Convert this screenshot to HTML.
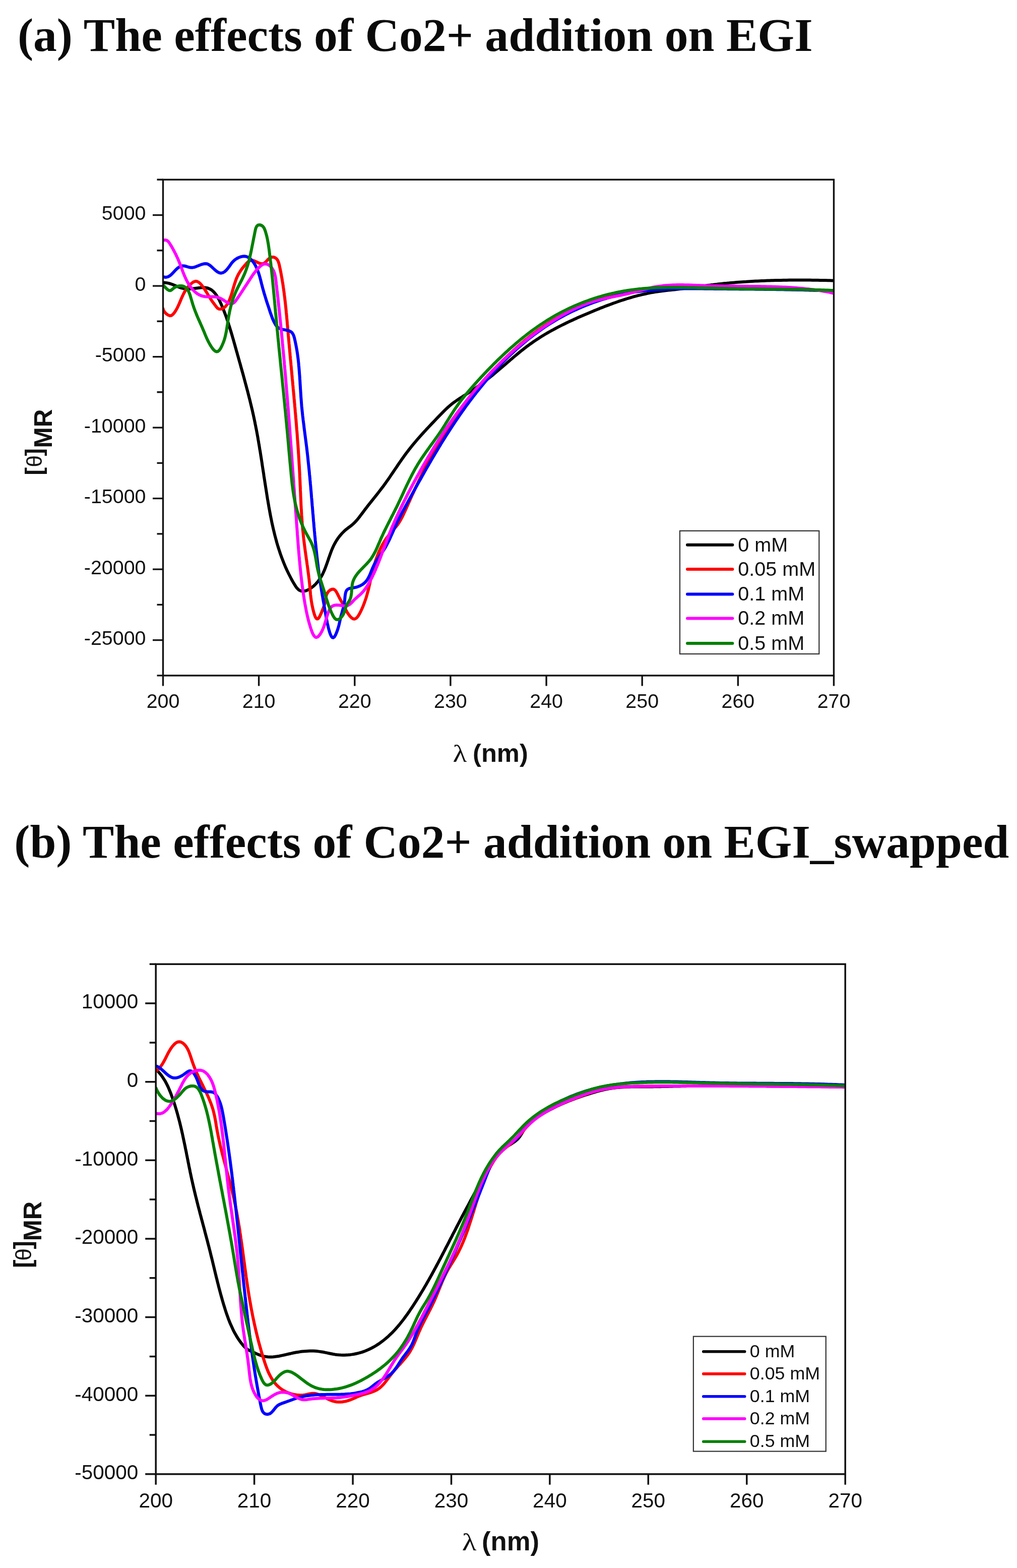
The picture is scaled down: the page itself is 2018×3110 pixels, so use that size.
<!DOCTYPE html>
<html><head><meta charset="utf-8"><title>Effects of Co2+ addition on EGI</title>
<style>
html,body{margin:0;padding:0;background:#fff;}
body{width:2018px;height:3110px;overflow:hidden;position:relative;}
svg{position:absolute;left:0;top:0;display:block;}
</style></head><body>
<svg width="2018" height="3110" viewBox="0 0 2018 3110">
<rect width="2018" height="3110" fill="#fff"/>
<g font-family="Liberation Serif, 'Times New Roman', serif" font-weight="bold" font-size="93.4" fill="#0a0a0a">
<text x="34.9" y="100.5" font-size="93.6">(a) The effects of Co2+ addition on EGI</text>
<text x="28.3" y="1700.5">(b) The effects of Co2+ addition on EGI_swapped</text>
</g>
<clipPath id="ca"><rect x="323.5" y="336.3" width="1331" height="1023.6"/></clipPath>
<g clip-path="url(#ca)" fill="none" stroke-width="6.0" stroke-linejoin="round" stroke-linecap="round">
<path stroke="#000000" d="M323.5,560.7 L327.4,560.6 L331.2,561.1 L335,561.9 L338.7,563 L342.3,564.3 L346,565.8 L349.6,567.3 L353.2,568.7 L356.8,570.1 L360.4,571.3 L364.1,572.2 L367.8,572.8 L371.5,573.1 L375.3,573 L379.1,572.8 L383,572.4 L386.9,571.9 L390.9,571.4 L394.9,570.9 L398.9,570.5 L402.9,570.3 L406.7,570.4 L410.3,571 L413.7,572 L416.9,573.4 L419.9,575.3 L422.7,577.6 L425.2,580.2 L427.7,583.1 L429.9,586.3 L432,589.7 L434,593.2 L435.9,596.9 L437.6,600.6 L439.3,604.3 L440.9,608.1 L442.4,611.8 L443.9,615.4 L445.3,619.1 L446.7,622.7 L448,626.3 L449.3,629.8 L450.5,633.4 L451.7,637 L452.9,640.5 L454,644.1 L455.2,647.7 L456.3,651.3 L457.4,654.9 L458.5,658.5 L459.6,662.2 L460.7,665.9 L461.7,669.5 L462.8,673.2 L463.9,677 L464.9,680.7 L466,684.4 L467,688.1 L468.1,691.9 L469.1,695.6 L470.2,699.3 L471.2,703.1 L472.3,706.8 L473.3,710.5 L474.4,714.3 L475.4,718 L476.5,721.7 L477.5,725.4 L478.5,729.2 L479.6,732.9 L480.6,736.6 L481.7,740.4 L482.7,744.1 L483.7,747.8 L484.7,751.5 L485.7,755.3 L486.7,759 L487.7,762.7 L488.7,766.4 L489.7,770.2 L490.7,773.9 L491.7,777.6 L492.6,781.4 L493.6,785.1 L494.5,788.8 L495.5,792.6 L496.4,796.3 L497.3,800.1 L498.2,803.8 L499.1,807.5 L500,811.3 L500.9,815 L501.7,818.8 L502.6,822.6 L503.4,826.3 L504.2,830.1 L505,833.9 L505.8,837.6 L506.5,841.4 L507.3,845.2 L508,849 L508.8,852.7 L509.5,856.5 L510.2,860.3 L510.9,864.1 L511.6,867.9 L512.2,871.7 L512.9,875.5 L513.5,879.3 L514.2,883.1 L514.8,886.9 L515.4,890.7 L516.1,894.5 L516.7,898.3 L517.3,902.2 L517.9,906 L518.5,909.8 L519.1,913.6 L519.7,917.4 L520.2,921.2 L520.8,925.1 L521.4,928.9 L522,932.7 L522.6,936.5 L523.2,940.3 L523.7,944.2 L524.3,948 L524.9,951.8 L525.5,955.6 L526.1,959.5 L526.7,963.3 L527.3,967.1 L527.9,970.9 L528.5,974.7 L529.1,978.5 L529.7,982.4 L530.3,986.2 L530.9,990 L531.6,993.8 L532.2,997.6 L532.9,1001.4 L533.5,1005.2 L534.2,1009 L534.9,1012.8 L535.6,1016.6 L536.3,1020.4 L537,1024.2 L537.8,1028 L538.6,1031.8 L539.3,1035.5 L540.1,1039.3 L541,1043.1 L541.8,1046.8 L542.7,1050.6 L543.6,1054.3 L544.5,1058.1 L545.4,1061.8 L546.4,1065.5 L547.4,1069.2 L548.4,1072.9 L549.4,1076.6 L550.5,1080.3 L551.6,1084 L552.8,1087.7 L554,1091.4 L555.2,1095 L556.4,1098.7 L557.7,1102.3 L559,1105.9 L560.4,1109.5 L561.8,1113.1 L563.2,1116.7 L564.7,1120.3 L566.2,1123.9 L567.8,1127.4 L569.4,1131 L571.1,1134.5 L572.8,1138 L574.6,1141.5 L576.4,1145 L578.2,1148.5 L580.1,1152 L582.1,1155.4 L584.1,1158.8 L586.2,1162.2 L588.4,1165.4 L590.8,1168.1 L593.4,1170.4 L596.4,1171.9 L599.8,1172.6 L603.3,1172.5 L607,1171.7 L610.7,1170.2 L614.3,1168.3 L617.8,1165.9 L621,1163.4 L624,1160.8 L626.8,1158 L629.4,1155.1 L631.8,1152.1 L634.1,1149 L636.1,1145.8 L638.1,1142.5 L639.9,1139.2 L641.5,1135.7 L643.1,1132.2 L644.6,1128.7 L646,1125.1 L647.3,1121.5 L648.6,1117.9 L649.9,1114.2 L651.2,1110.5 L652.4,1106.8 L653.7,1103.2 L655,1099.5 L656.3,1095.9 L657.7,1092.2 L659.2,1088.6 L660.8,1085.1 L662.4,1081.6 L664.2,1078.2 L666.1,1074.8 L668.1,1071.5 L670.2,1068.3 L672.5,1065.2 L674.9,1062.2 L677.4,1059.3 L680,1056.5 L682.7,1053.8 L685.5,1051.2 L688.5,1048.8 L691.5,1046.5 L694.5,1044.3 L697.5,1042 L700.4,1039.5 L703.2,1036.9 L705.8,1034.2 L708.4,1031.3 L710.8,1028.4 L713.2,1025.4 L715.5,1022.3 L717.9,1019.2 L720.2,1016.1 L722.5,1013 L724.8,1009.9 L727.2,1006.8 L729.6,1003.7 L732,1000.7 L734.4,997.7 L736.8,994.6 L739.2,991.6 L741.6,988.6 L744,985.6 L746.4,982.6 L748.8,979.6 L751.2,976.5 L753.5,973.5 L755.9,970.4 L758.2,967.4 L760.6,964.3 L762.8,961.2 L765.1,958.1 L767.3,954.9 L769.6,951.8 L771.8,948.6 L774,945.4 L776.1,942.2 L778.3,939 L780.5,935.8 L782.6,932.6 L784.8,929.4 L787,926.2 L789.1,923 L791.3,919.8 L793.5,916.6 L795.7,913.5 L797.9,910.3 L800.1,907.2 L802.4,904 L804.7,900.9 L807,897.8 L809.3,894.8 L811.7,891.7 L814.1,888.7 L816.5,885.7 L818.9,882.7 L821.4,879.7 L823.8,876.8 L826.3,873.8 L828.8,870.9 L831.4,868 L833.9,865.1 L836.5,862.2 L839.1,859.4 L841.7,856.5 L844.3,853.7 L846.9,850.8 L849.6,848 L852.2,845.2 L854.9,842.4 L857.5,839.6 L860.2,836.8 L862.9,834 L865.5,831.2 L868.2,828.4 L870.9,825.6 L873.6,822.9 L876.3,820.1 L879,817.3 L881.7,814.6 L884.5,811.9 L887.3,809.3 L890.1,806.7 L893,804.2 L896,801.7 L899,799.4 L902.1,797.1 L905.3,794.9 L908.5,792.7 L911.7,790.6 L915,788.5 L918.2,786.4 L921.5,784.4 L924.8,782.3 L928,780.2 L931.2,778.1 L934.5,775.9 L937.7,773.8 L940.8,771.6 L944,769.4 L947.1,767.2 L950.3,765 L953.4,762.7 L956.5,760.4 L959.6,758.1 L962.6,755.8 L965.7,753.4 L968.7,751 L971.7,748.6 L974.7,746.2 L977.7,743.8 L980.7,741.3 L983.7,738.8 L986.6,736.3 L989.6,733.8 L992.5,731.3 L995.5,728.8 L998.4,726.2 L1001.4,723.7 L1004.3,721.2 L1007.2,718.6 L1010.2,716.1 L1013.1,713.6 L1016.1,711.1 L1019,708.5 L1022,706 L1024.9,703.6 L1027.9,701.1 L1030.9,698.6 L1033.9,696.2 L1037,693.8 L1040,691.4 L1043,689.1 L1046.1,686.7 L1049.2,684.5 L1052.3,682.2 L1055.5,680 L1058.6,677.8 L1061.8,675.6 L1065,673.5 L1068.2,671.4 L1071.5,669.3 L1074.7,667.3 L1078,665.3 L1081.3,663.3 L1084.6,661.3 L1087.9,659.4 L1091.3,657.5 L1094.6,655.6 L1098,653.8 L1101.4,652 L1104.8,650.2 L1108.2,648.4 L1111.6,646.6 L1115.1,644.9 L1118.5,643.2 L1122,641.5 L1125.5,639.8 L1129,638.1 L1132.5,636.5 L1136,634.9 L1139.5,633.3 L1143,631.7 L1146.5,630.1 L1150.1,628.5 L1153.6,627 L1157.2,625.4 L1160.7,623.9 L1164.3,622.4 L1167.9,620.9 L1171.4,619.4 L1175,617.9 L1178.6,616.4 L1182.2,615 L1185.8,613.5 L1189.4,612.1 L1193,610.6 L1196.6,609.2 L1200.2,607.8 L1203.8,606.4 L1207.4,605.1 L1211.1,603.7 L1214.7,602.4 L1218.3,601 L1222,599.8 L1225.6,598.5 L1229.3,597.2 L1232.9,596 L1236.6,594.8 L1240.3,593.6 L1243.9,592.5 L1247.6,591.4 L1251.3,590.3 L1255,589.2 L1258.7,588.2 L1262.5,587.2 L1266.2,586.2 L1269.9,585.3 L1273.6,584.4 L1277.4,583.5 L1281.2,582.7 L1284.9,581.9 L1288.7,581.1 L1292.5,580.4 L1296.3,579.7 L1300.1,579.1 L1303.9,578.5 L1307.7,578 L1311.5,577.5 L1315.4,577 L1319.2,576.5 L1323.1,576.1 L1326.9,575.6 L1330.7,575.2 L1334.6,574.8 L1338.4,574.4 L1342.3,573.9 L1346.1,573.5 L1350,573.1 L1353.8,572.6 L1357.7,572.1 L1361.5,571.6 L1365.3,571.1 L1369.2,570.6 L1373,570.1 L1376.8,569.6 L1380.6,569.1 L1384.5,568.6 L1388.3,568.1 L1392.1,567.6 L1395.9,567.1 L1399.7,566.6 L1403.6,566.1 L1407.4,565.6 L1411.2,565.1 L1415,564.7 L1418.9,564.2 L1422.7,563.8 L1426.5,563.3 L1430.4,562.9 L1434.2,562.5 L1438,562.1 L1441.9,561.8 L1445.7,561.4 L1449.6,561 L1453.4,560.7 L1457.2,560.4 L1461.1,560.1 L1464.9,559.8 L1468.8,559.5 L1472.6,559.2 L1476.5,558.9 L1480.3,558.7 L1484.2,558.4 L1488,558.2 L1491.9,558 L1495.8,557.8 L1499.6,557.6 L1503.5,557.4 L1507.3,557.2 L1511.2,557 L1515,556.9 L1518.9,556.7 L1522.8,556.6 L1526.6,556.5 L1530.5,556.3 L1534.3,556.2 L1538.2,556.1 L1542.1,556 L1545.9,555.9 L1549.8,555.9 L1553.7,555.8 L1557.5,555.7 L1561.4,555.7 L1565.3,555.6 L1569.1,555.6 L1573,555.6 L1576.8,555.6 L1580.7,555.5 L1584.6,555.5 L1588.4,555.5 L1592.3,555.5 L1596.2,555.6 L1600,555.6 L1603.9,555.6 L1607.7,555.6 L1611.6,555.7 L1615.5,555.7 L1619.3,555.8 L1623.2,555.8 L1627,555.9 L1630.9,556 L1634.7,556 L1638.6,556.1 L1642.4,556.2 L1646.3,556.3 L1650.1,556.4 L1654,556.5"/>
<path stroke="#ff0000" d="M323.5,612 L324,614.8 L326.1,618.3 L329.3,621.8 L333.1,624.7 L337,626.2 L340.4,625.7 L343.3,623.4 L345.9,620.3 L348.1,617 L350.1,613.7 L351.9,610.3 L353.6,606.8 L355.2,603.3 L356.7,599.8 L358.2,596.3 L359.6,592.7 L361.2,589.2 L362.8,585.7 L364.5,582.2 L366.4,578.7 L368.5,575.3 L370.7,571.9 L373.2,568.8 L375.8,565.8 L378.6,563.1 L381.6,560.8 L384.7,558.8 L387.9,557.8 L391.1,558.2 L394.2,559.8 L397.2,562.3 L400.1,565.5 L402.8,569 L405.3,572.6 L407.5,576 L409.6,579.3 L411.5,582.5 L413.4,585.7 L415.3,588.8 L417.2,591.9 L419.3,595 L421.5,598.2 L423.9,601.4 L426.4,604.8 L429,608.3 L431.7,611.4 L434.9,613.1 L438.6,613 L442,611.8 L445.1,609.9 L447.8,607.5 L450.1,604.5 L452.2,601.3 L454.1,597.7 L455.7,594 L457.1,590.1 L458.5,586.3 L459.7,582.5 L460.8,578.7 L461.9,574.9 L463,571.2 L464.1,567.5 L465.2,563.8 L466.4,560.2 L467.6,556.6 L468.9,553 L470.4,549.5 L472,546.1 L473.8,542.8 L475.8,539.5 L477.9,536.2 L480.2,533 L482.7,529.9 L485.3,526.7 L488,523.7 L490.9,520.7 L494,518.2 L497.3,516.6 L500.9,516.5 L504.6,517.5 L508.5,519.2 L512.4,521.1 L516.2,522.6 L519.8,523.3 L523.2,522.6 L526.2,520.5 L529.2,517.5 L532.1,514.4 L535.3,511.6 L538.7,510 L542.5,509.9 L545.9,511.1 L548.6,513.1 L550.6,515.7 L552.2,518.9 L553.4,522.5 L554.4,526.4 L555.2,530.3 L556.1,534.2 L556.8,538.2 L557.6,542.1 L558.3,546 L559,549.9 L559.7,553.8 L560.3,557.7 L561,561.6 L561.6,565.5 L562.1,569.4 L562.7,573.3 L563.2,577.1 L563.8,581 L564.2,584.9 L564.7,588.7 L565.2,592.6 L565.6,596.5 L566.1,600.3 L566.5,604.2 L566.9,608 L567.3,611.9 L567.7,615.7 L568,619.6 L568.4,623.4 L568.8,627.3 L569.1,631.1 L569.5,635 L569.8,638.8 L570.1,642.6 L570.5,646.5 L570.8,650.3 L571.1,654.2 L571.5,658 L571.8,661.9 L572.1,665.7 L572.5,669.6 L572.8,673.4 L573.2,677.3 L573.5,681.2 L573.9,685 L574.2,688.9 L574.6,692.7 L574.9,696.6 L575.3,700.5 L575.6,704.3 L576,708.2 L576.3,712.1 L576.7,715.9 L577.1,719.8 L577.4,723.7 L577.8,727.6 L578.1,731.4 L578.5,735.3 L578.9,739.2 L579.2,743.1 L579.6,746.9 L579.9,750.8 L580.3,754.7 L580.7,758.6 L581,762.5 L581.4,766.3 L581.7,770.2 L582.1,774.1 L582.5,778 L582.8,781.9 L583.2,785.8 L583.5,789.6 L583.9,793.5 L584.2,797.4 L584.6,801.3 L584.9,805.2 L585.3,809.1 L585.6,812.9 L585.9,816.8 L586.3,820.7 L586.6,824.6 L586.9,828.5 L587.3,832.4 L587.6,836.3 L587.9,840.1 L588.2,844 L588.5,847.9 L588.8,851.8 L589.2,855.7 L589.5,859.6 L589.8,863.4 L590,867.3 L590.3,871.2 L590.6,875.1 L590.9,879 L591.2,882.8 L591.5,886.7 L591.7,890.6 L592,894.5 L592.2,898.3 L592.5,902.2 L592.7,906.1 L593,909.9 L593.2,913.8 L593.4,917.7 L593.6,921.6 L593.9,925.4 L594.1,929.3 L594.3,933.1 L594.5,937 L594.7,940.9 L594.8,944.7 L595,948.6 L595.2,952.4 L595.4,956.3 L595.5,960.1 L595.7,964 L595.9,967.9 L596,971.7 L596.2,975.6 L596.4,979.4 L596.5,983.3 L596.7,987.1 L596.9,991 L597.1,994.9 L597.2,998.7 L597.4,1002.6 L597.6,1006.4 L597.8,1010.3 L598.1,1014.2 L598.3,1018.1 L598.5,1021.9 L598.8,1025.8 L599.1,1029.7 L599.3,1033.6 L599.6,1037.5 L600,1041.4 L600.3,1045.3 L600.6,1049.2 L601,1053.1 L601.4,1057 L601.8,1060.9 L602.2,1064.8 L602.6,1068.8 L603.1,1072.7 L603.6,1076.6 L604.1,1080.6 L604.6,1084.5 L605.1,1088.4 L605.6,1092.3 L606.2,1096.3 L606.7,1100.2 L607.3,1104.1 L607.8,1108 L608.4,1111.9 L608.9,1115.7 L609.4,1119.6 L610,1123.4 L610.5,1127.3 L611,1131.1 L611.5,1134.8 L612,1138.6 L612.5,1142.3 L612.9,1146.1 L613.4,1149.7 L613.8,1153.4 L614.2,1157 L614.5,1160.6 L614.8,1164.2 L615.2,1167.7 L615.5,1171.3 L615.8,1174.8 L616.1,1178.5 L616.5,1182.2 L617,1186 L617.5,1190 L618.2,1194.2 L618.9,1198.6 L619.9,1203.2 L620.9,1208.1 L622.2,1213.1 L623.6,1218 L625.1,1222.3 L626.8,1225.6 L628.6,1227.5 L630.5,1227.6 L632.4,1225.8 L634.4,1222.6 L636.3,1218.5 L638.2,1214.2 L639.8,1210.1 L641.3,1206.3 L642.7,1202.7 L643.8,1199.1 L644.8,1195.5 L645.5,1191.9 L646.1,1188.1 L646.8,1184.2 L647.7,1180.4 L649.3,1176.8 L651.6,1173.4 L654.8,1170.5 L658.4,1168.7 L661.8,1168.5 L664.6,1170.2 L667.1,1173.3 L669.2,1177.2 L671.2,1181.2 L673.1,1185 L675,1188.5 L676.8,1191.7 L678.6,1194.9 L680.3,1198.2 L682,1201.5 L683.7,1205 L685.6,1208.5 L687.5,1212.1 L689.7,1215.8 L692.2,1219.4 L694.8,1222.7 L697.6,1225.4 L700.4,1227.2 L703.1,1227.8 L705.7,1227 L708.2,1225 L710.5,1222.1 L712.7,1218.5 L714.8,1214.6 L716.7,1210.7 L718.5,1206.8 L720.2,1202.9 L721.7,1199 L723.2,1195.2 L724.5,1191.4 L725.8,1187.6 L727,1183.8 L728.1,1180 L729.1,1176.3 L730.1,1172.6 L731.1,1168.9 L732,1165.2 L732.8,1161.5 L733.7,1157.8 L734.5,1154.1 L735.3,1150.4 L736.2,1146.7 L737,1143.1 L737.8,1139.4 L738.7,1135.7 L739.6,1132 L740.6,1128.3 L741.6,1124.5 L742.6,1120.8 L743.8,1117.1 L744.9,1113.3 L746.2,1109.6 L747.5,1105.9 L748.9,1102.2 L750.3,1098.5 L751.9,1094.8 L753.5,1091.2 L755.1,1087.6 L756.9,1084.1 L758.7,1080.6 L760.7,1077.2 L762.7,1073.8 L764.8,1070.5 L767,1067.3 L769.3,1064.2 L771.7,1061.1 L774.2,1058.2 L776.7,1055.2 L779.2,1052.4 L781.8,1049.5 L784.2,1046.5 L786.7,1043.6 L789,1040.5 L791.2,1037.4 L793.2,1034.1 L795.2,1030.8 L797,1027.4 L798.8,1024 L800.5,1020.5 L802.1,1016.9 L803.8,1013.4 L805.4,1009.8 L807,1006.2 L808.6,1002.7 L810.2,999.1 L811.8,995.5 L813.4,992 L815,988.4 L816.6,984.8 L818.2,981.3 L819.9,977.7 L821.5,974.2 L823.1,970.6 L824.7,967.1 L826.4,963.6 L828,960 L829.7,956.5 L831.3,953 L833,949.5 L834.7,946 L836.4,942.5 L838.1,939 L839.8,935.5 L841.6,932 L843.3,928.6 L845.1,925.1 L846.9,921.7 L848.6,918.2 L850.5,914.8 L852.3,911.4 L854.1,908 L856,904.6 L857.9,901.2 L859.8,897.8 L861.7,894.5 L863.7,891.1 L865.7,887.8 L867.7,884.5 L869.7,881.2 L871.7,877.9 L873.7,874.6 L875.8,871.3 L877.9,868 L880,864.7 L882.1,861.5 L884.3,858.3 L886.4,855 L888.6,851.8 L890.7,848.6 L892.9,845.4 L895.2,842.2 L897.4,839 L899.6,835.8 L901.9,832.6 L904.1,829.5 L906.4,826.3 L908.7,823.2 L911,820 L913.3,816.9 L915.6,813.8 L917.9,810.6 L920.3,807.5 L922.6,804.4 L925,801.3 L927.3,798.2 L929.7,795.1 L932.1,792 L934.5,789 L936.9,785.9 L939.3,782.8 L941.7,779.8 L944.1,776.7 L946.6,773.7 L949,770.7 L951.5,767.6 L954,764.6 L956.4,761.6 L958.9,758.6 L961.4,755.7 L964,752.7 L966.5,749.8 L969,746.8 L971.6,743.9 L974.2,741 L976.8,738.1 L979.4,735.2 L982,732.3 L984.6,729.4 L987.2,726.6 L989.9,723.8 L992.6,720.9 L995.3,718.2 L998,715.4 L1000.7,712.6 L1003.4,709.9 L1006.2,707.1 L1008.9,704.4 L1011.7,701.7 L1014.5,699 L1017.4,696.4 L1020.2,693.8 L1023.1,691.1 L1025.9,688.5 L1028.8,686 L1031.7,683.4 L1034.7,680.9 L1037.6,678.4 L1040.6,675.9 L1043.6,673.4 L1046.6,671 L1049.7,668.6 L1052.7,666.2 L1055.8,663.8 L1058.9,661.4 L1062,659.1 L1065.2,656.8 L1068.3,654.5 L1071.5,652.3 L1074.7,650.1 L1077.9,647.9 L1081.2,645.7 L1084.4,643.6 L1087.7,641.5 L1091,639.4 L1094.3,637.3 L1097.6,635.3 L1101,633.3 L1104.4,631.3 L1107.7,629.4 L1111.1,627.5 L1114.6,625.6 L1118,623.8 L1121.4,622 L1124.9,620.2 L1128.4,618.4 L1131.9,616.7 L1135.4,615 L1138.9,613.4 L1142.5,611.7 L1146,610.1 L1149.6,608.6 L1153.2,607.1 L1156.8,605.6 L1160.4,604.1 L1164,602.7 L1167.6,601.3 L1171.3,600 L1174.9,598.7 L1178.6,597.4 L1182.3,596.2 L1186,595 L1189.7,593.8 L1193.4,592.7 L1197.2,591.6 L1200.9,590.6 L1204.6,589.5 L1208.4,588.6 L1212.2,587.6 L1216,586.7 L1219.7,585.8 L1223.5,584.9 L1227.3,584.1 L1231.1,583.3 L1235,582.5 L1238.8,581.8 L1242.6,581.1 L1246.4,580.4 L1250.3,579.8 L1254.1,579.2 L1258,578.6 L1261.8,578 L1265.7,577.5 L1269.5,577 L1273.4,576.5 L1277.3,576 L1281.1,575.6 L1285,575.2 L1288.9,574.8 L1292.8,574.4 L1296.6,574.1 L1300.5,573.8 L1304.4,573.5 L1308.3,573.3 L1312.1,573 L1316,572.8 L1319.9,572.6 L1323.8,572.4 L1327.7,572.2 L1331.5,572.1 L1335.4,572 L1339.3,571.9 L1343.2,571.8 L1347.1,571.7 L1350.9,571.6 L1354.8,571.6 L1358.7,571.5 L1362.6,571.5 L1366.5,571.5 L1370.4,571.5 L1374.2,571.5 L1378.1,571.5 L1382,571.5 L1385.9,571.5 L1389.8,571.5 L1393.7,571.6 L1397.5,571.6 L1401.4,571.6 L1405.3,571.7 L1409.2,571.7 L1413.1,571.8 L1417,571.8 L1420.8,571.9 L1424.7,571.9 L1428.6,572 L1432.5,572 L1436.4,572.1 L1440.3,572.2 L1444.2,572.2 L1448.1,572.3 L1451.9,572.3 L1455.8,572.4 L1459.7,572.4 L1463.6,572.5 L1467.5,572.5 L1471.4,572.6 L1475.3,572.6 L1479.1,572.7 L1483,572.8 L1486.9,572.8 L1490.8,572.9 L1494.7,573 L1498.6,573 L1502.5,573.1 L1506.4,573.1 L1510.2,573.2 L1514.1,573.3 L1518,573.4 L1521.9,573.4 L1525.8,573.5 L1529.7,573.6 L1533.6,573.6 L1537.5,573.7 L1541.3,573.8 L1545.2,573.9 L1549.1,574 L1553,574 L1556.9,574.1 L1560.8,574.2 L1564.7,574.3 L1568.6,574.4 L1572.4,574.5 L1576.3,574.6 L1580.2,574.7 L1584.1,574.8 L1588,574.9 L1591.9,575 L1595.8,575.1 L1599.6,575.2 L1603.5,575.3 L1607.4,575.4 L1611.3,575.5 L1615.2,575.7 L1619.1,575.8 L1622.9,575.9 L1626.8,576 L1630.7,576.2 L1634.6,576.3 L1638.5,576.4 L1642.4,576.6 L1646.2,576.7 L1650.1,576.9 L1654,577"/>
<path stroke="#0000ff" d="M323.5,549 L327.7,549.9 L331.5,549.5 L334.9,548.3 L337.9,546.3 L340.8,543.7 L343.6,540.8 L346.4,537.7 L349.2,534.7 L352.2,532 L355.4,529.7 L358.9,528.1 L362.5,527.3 L366.2,527.5 L369.9,528.5 L373.6,529.7 L377.3,530.6 L381.2,530.7 L385.1,530.1 L389,528.8 L392.9,527.3 L396.7,525.7 L400.5,524.3 L404.2,523.3 L407.7,522.9 L411,523.3 L414.1,524.7 L417.1,526.8 L420,529.3 L423,532.1 L426,534.9 L429.1,537.5 L432.3,539.7 L435.6,541.2 L439,541.7 L442.3,540.9 L445.6,539 L448.7,536.2 L451.5,533 L453.9,529.9 L456.2,526.7 L458.3,523.7 L460.6,520.7 L463.2,517.9 L466.1,515.3 L469.6,513 L473.3,511 L477.2,509.5 L481.1,508.6 L484.9,508.3 L488.4,508.8 L491.6,510 L494.7,511.8 L497.5,514 L500.1,516.6 L502.4,519.6 L504.6,522.8 L506.6,526.2 L508.4,529.8 L510.1,533.5 L511.6,537.3 L513,541 L514.2,544.8 L515.3,548.5 L516.3,552.2 L517.3,555.9 L518.2,559.5 L519.1,563.2 L520.1,566.9 L521,570.5 L522,574.2 L523.1,577.9 L524.1,581.6 L525.3,585.3 L526.4,589 L527.5,592.7 L528.7,596.5 L529.9,600.2 L531.1,603.9 L532.4,607.6 L533.6,611.3 L534.8,615 L536,618.7 L537.3,622.4 L538.6,626.1 L539.9,629.7 L541.3,633.3 L542.9,636.9 L544.7,640.4 L546.6,643.8 L548.8,646.9 L551.5,649.5 L554.6,651.5 L558.2,652.8 L562.1,653.7 L566,654.4 L569.9,655.2 L573.6,656.2 L576.8,657.7 L579.5,659.9 L581.5,662.9 L583,666.4 L584.2,670.4 L585.1,674.4 L586,678.5 L586.8,682.4 L587.6,686.4 L588.3,690.3 L589,694.1 L589.6,698 L590.2,701.8 L590.7,705.6 L591.2,709.4 L591.7,713.2 L592.1,717 L592.5,720.8 L592.8,724.6 L593.2,728.4 L593.5,732.2 L593.8,736.1 L594.1,739.9 L594.4,743.7 L594.7,747.6 L594.9,751.5 L595.2,755.3 L595.4,759.2 L595.6,763.1 L595.9,766.9 L596.1,770.8 L596.4,774.7 L596.6,778.6 L596.9,782.5 L597.1,786.3 L597.4,790.2 L597.7,794.1 L598,798 L598.3,801.9 L598.6,805.7 L599,809.6 L599.4,813.5 L599.8,817.3 L600.2,821.2 L600.6,825.1 L601.1,828.9 L601.5,832.8 L602,836.6 L602.5,840.5 L603,844.3 L603.4,848.2 L603.9,852 L604.4,855.9 L604.9,859.7 L605.4,863.6 L605.9,867.4 L606.4,871.3 L606.9,875.1 L607.4,879 L607.9,882.8 L608.4,886.7 L608.8,890.5 L609.3,894.4 L609.7,898.2 L610.2,902.1 L610.6,905.9 L611,909.8 L611.4,913.6 L611.8,917.5 L612.2,921.3 L612.6,925.2 L613,929 L613.4,932.9 L613.8,936.7 L614.1,940.6 L614.5,944.4 L614.9,948.3 L615.2,952.1 L615.6,956 L615.9,959.8 L616.3,963.7 L616.6,967.6 L616.9,971.4 L617.3,975.3 L617.6,979.1 L617.9,983 L618.2,986.8 L618.6,990.7 L618.9,994.6 L619.2,998.4 L619.5,1002.3 L619.9,1006.1 L620.2,1010 L620.5,1013.9 L620.8,1017.7 L621.2,1021.6 L621.5,1025.4 L621.8,1029.3 L622.1,1033.2 L622.5,1037 L622.8,1040.9 L623.1,1044.7 L623.5,1048.6 L623.8,1052.5 L624.2,1056.3 L624.5,1060.2 L624.9,1064 L625.3,1067.9 L625.6,1071.7 L626,1075.6 L626.4,1079.5 L626.8,1083.3 L627.2,1087.2 L627.6,1091 L628,1094.9 L628.4,1098.8 L628.8,1102.6 L629.2,1106.5 L629.7,1110.3 L630.1,1114.2 L630.6,1118 L631.1,1121.9 L631.5,1125.7 L632,1129.6 L632.5,1133.5 L633,1137.3 L633.5,1141.2 L634.1,1145 L634.6,1148.9 L635.2,1152.7 L635.7,1156.6 L636.3,1160.4 L636.9,1164.3 L637.5,1168.1 L638.1,1172 L638.8,1175.8 L639.4,1179.7 L640.1,1183.5 L640.7,1187.4 L641.4,1191.2 L642.1,1195 L642.8,1198.8 L643.4,1202.5 L644.1,1206.2 L644.7,1209.8 L645.4,1213.4 L646,1217 L646.6,1220.5 L647.2,1224.1 L647.9,1227.8 L648.7,1231.7 L649.5,1235.8 L650.5,1240.2 L651.6,1244.9 L652.9,1249.9 L654.3,1254.7 L655.9,1258.9 L657.6,1262.3 L659.3,1264.4 L661.2,1264.9 L663.2,1263.5 L665.1,1260.6 L667,1256.7 L668.7,1252.3 L670.3,1247.9 L671.5,1243.7 L672.6,1239.7 L673.5,1235.8 L674.3,1232.1 L675.1,1228.5 L675.9,1225 L676.7,1221.5 L677.7,1218 L678.7,1214.5 L679.7,1210.9 L680.7,1207.3 L681.7,1203.5 L682.6,1199.6 L683.3,1195.5 L683.9,1191.2 L684.3,1186.7 L684.7,1182.3 L685.3,1178.1 L686.2,1174.3 L687.7,1171.1 L689.8,1168.8 L692.7,1167.3 L696.2,1166.6 L700.1,1166 L704.1,1165.3 L708,1164.3 L711.8,1163 L715.5,1161.4 L718.9,1159.5 L722,1157.3 L724.8,1154.7 L727.2,1151.9 L729.4,1148.8 L731.3,1145.4 L733,1142 L734.6,1138.4 L736.1,1134.7 L737.6,1131 L739.1,1127.3 L740.7,1123.7 L742.4,1120.1 L744.3,1116.7 L746.3,1113.4 L748.4,1110.1 L750.6,1106.9 L752.8,1103.7 L755,1100.6 L757.2,1097.4 L759.3,1094.2 L761.4,1091 L763.5,1087.7 L765.4,1084.4 L767.2,1081 L769,1077.6 L770.8,1074.2 L772.5,1070.7 L774.1,1067.2 L775.7,1063.6 L777.3,1060.1 L778.9,1056.5 L780.4,1053 L782,1049.4 L783.6,1045.9 L785.2,1042.3 L786.8,1038.8 L788.5,1035.3 L790.2,1031.8 L791.9,1028.4 L793.7,1024.9 L795.4,1021.5 L797.2,1018.1 L799,1014.7 L800.9,1011.3 L802.7,1007.9 L804.5,1004.5 L806.4,1001.1 L808.2,997.7 L810.1,994.3 L811.9,990.9 L813.8,987.5 L815.6,984.1 L817.5,980.7 L819.3,977.3 L821.2,973.9 L823.1,970.5 L824.9,967.1 L826.8,963.7 L828.7,960.3 L830.6,956.9 L832.5,953.6 L834.4,950.2 L836.3,946.8 L838.2,943.4 L840.1,940 L842,936.6 L843.9,933.3 L845.8,929.9 L847.7,926.5 L849.7,923.2 L851.6,919.8 L853.6,916.5 L855.5,913.1 L857.5,909.7 L859.4,906.4 L861.4,903.1 L863.4,899.7 L865.4,896.4 L867.4,893.1 L869.4,889.7 L871.4,886.4 L873.4,883.1 L875.4,879.8 L877.5,876.5 L879.5,873.2 L881.6,869.9 L883.6,866.6 L885.7,863.4 L887.8,860.1 L889.9,856.8 L892,853.6 L894.1,850.3 L896.2,847.1 L898.4,843.8 L900.5,840.6 L902.7,837.4 L904.8,834.2 L907,831 L909.2,827.8 L911.4,824.6 L913.6,821.4 L915.8,818.2 L918,815.1 L920.3,811.9 L922.5,808.8 L924.8,805.6 L927.1,802.5 L929.4,799.4 L931.7,796.3 L934,793.2 L936.4,790.1 L938.7,787 L941.1,783.9 L943.5,780.9 L945.8,777.8 L948.3,774.8 L950.7,771.8 L953.1,768.8 L955.6,765.8 L958,762.8 L960.5,759.8 L963,756.8 L965.5,753.9 L968,750.9 L970.6,748 L973.2,745.1 L975.7,742.2 L978.3,739.3 L980.9,736.4 L983.6,733.5 L986.2,730.7 L988.9,727.9 L991.5,725.1 L994.2,722.2 L996.9,719.5 L999.7,716.7 L1002.4,713.9 L1005.2,711.2 L1007.9,708.5 L1010.7,705.8 L1013.5,703.1 L1016.4,700.5 L1019.2,697.8 L1022.1,695.2 L1025,692.6 L1027.9,690 L1030.8,687.5 L1033.7,684.9 L1036.6,682.4 L1039.6,679.9 L1042.6,677.4 L1045.6,675 L1048.6,672.5 L1051.7,670.1 L1054.7,667.8 L1057.8,665.4 L1060.9,663.1 L1064,660.8 L1067.1,658.5 L1070.3,656.2 L1073.4,654 L1076.6,651.8 L1079.8,649.6 L1083,647.4 L1086.3,645.3 L1089.5,643.2 L1092.8,641.2 L1096.1,639.1 L1099.4,637.1 L1102.7,635.1 L1106.1,633.2 L1109.5,631.2 L1112.8,629.3 L1116.2,627.5 L1119.7,625.6 L1123.1,623.8 L1126.6,622.1 L1130,620.3 L1133.5,618.6 L1137,616.9 L1140.5,615.3 L1144.1,613.7 L1147.6,612.1 L1151.2,610.5 L1154.7,609 L1158.3,607.5 L1161.9,606 L1165.5,604.6 L1169.2,603.2 L1172.8,601.8 L1176.5,600.5 L1180.1,599.2 L1183.8,597.9 L1187.5,596.6 L1191.2,595.4 L1194.9,594.2 L1198.6,593.1 L1202.3,592 L1206,590.9 L1209.8,589.9 L1213.5,588.9 L1217.3,587.9 L1221,586.9 L1224.8,586 L1228.6,585.1 L1232.4,584.3 L1236.1,583.5 L1239.9,582.7 L1243.7,582 L1247.5,581.2 L1251.3,580.6 L1255.2,579.9 L1259,579.3 L1262.8,578.8 L1266.6,578.2 L1270.5,577.7 L1274.3,577.2 L1278.1,576.8 L1282,576.3 L1285.8,575.9 L1289.7,575.6 L1293.5,575.2 L1297.4,574.9 L1301.2,574.6 L1305.1,574.3 L1309,574.1 L1312.8,573.9 L1316.7,573.7 L1320.6,573.5 L1324.4,573.3 L1328.3,573.2 L1332.2,573 L1336.1,572.9 L1339.9,572.8 L1343.8,572.7 L1347.7,572.7 L1351.6,572.6 L1355.5,572.6 L1359.4,572.5 L1363.2,572.5 L1367.1,572.5 L1371,572.5 L1374.9,572.5 L1378.8,572.5 L1382.7,572.5 L1386.6,572.6 L1390.5,572.6 L1394.3,572.6 L1398.2,572.7 L1402.1,572.7 L1406,572.7 L1409.9,572.8 L1413.8,572.8 L1417.7,572.9 L1421.5,572.9 L1425.4,573 L1429.3,573 L1433.2,573 L1437.1,573.1 L1440.9,573.1 L1444.8,573.2 L1448.7,573.2 L1452.6,573.2 L1456.4,573.3 L1460.3,573.3 L1464.2,573.3 L1468.1,573.4 L1471.9,573.4 L1475.8,573.4 L1479.7,573.5 L1483.6,573.5 L1487.4,573.5 L1491.3,573.6 L1495.2,573.6 L1499,573.7 L1502.9,573.7 L1506.8,573.7 L1510.6,573.8 L1514.5,573.8 L1518.4,573.9 L1522.2,573.9 L1526.1,573.9 L1530,574 L1533.8,574 L1537.7,574.1 L1541.6,574.2 L1545.5,574.2 L1549.3,574.3 L1553.2,574.3 L1557.1,574.4 L1560.9,574.4 L1564.8,574.5 L1568.7,574.6 L1572.5,574.7 L1576.4,574.7 L1580.3,574.8 L1584.2,574.9 L1588,575 L1591.9,575.1 L1595.8,575.2 L1599.7,575.2 L1603.5,575.3 L1607.4,575.4 L1611.3,575.6 L1615.2,575.7 L1619,575.8 L1622.9,575.9 L1626.8,576 L1630.7,576.1 L1634.6,576.3 L1638.5,576.4 L1642.3,576.5 L1646.2,576.7 L1650.1,576.8 L1654,577"/>
<path stroke="#ff00ff" d="M323.5,476.4 L328.2,476 L331.7,477.2 L334.4,479.6 L336.5,482.6 L338.5,485.8 L340.5,489.1 L342.4,492.4 L344.2,495.8 L346.1,499.2 L347.8,502.7 L349.6,506.2 L351.2,509.8 L352.9,513.3 L354.4,516.9 L355.9,520.6 L357.4,524.2 L358.7,527.9 L360.1,531.5 L361.5,535.2 L362.8,538.8 L364.2,542.4 L365.7,546 L367.2,549.6 L368.8,553.1 L370.5,556.5 L372.3,559.9 L374.2,563.3 L376.3,566.5 L378.6,569.7 L381,572.8 L383.6,575.7 L386.4,578.5 L389.4,581 L392.5,583.2 L395.8,585 L399.3,586.5 L403,587.6 L406.8,588.2 L410.8,588.5 L414.8,588.5 L418.8,588.5 L422.9,588.5 L426.8,588.8 L430.6,589.4 L434.3,590.4 L437.8,591.9 L441.2,593.8 L444.6,595.9 L447.9,598.1 L451.4,600.1 L454.8,601.8 L458.1,602.5 L461.3,602 L464.2,600.3 L466.9,597.6 L469.4,594.3 L471.8,590.8 L474.1,587.3 L476.4,583.9 L478.6,580.6 L480.7,577.3 L482.8,574.1 L484.9,570.9 L487,567.7 L489.1,564.6 L491.1,561.4 L493.1,558.3 L495.2,555.2 L497.2,552 L499.3,548.9 L501.4,545.7 L503.6,542.6 L506,539.5 L508.4,536.3 L511.1,533.3 L514.1,530.3 L517.3,527.4 L520.7,525 L524.1,523.6 L527.5,523.5 L530.7,524.3 L533.8,525.9 L536.7,528.3 L539.2,531.1 L541.3,534.3 L543.1,537.7 L544.5,541.2 L545.5,544.9 L546.4,548.6 L547,552.4 L547.5,556.3 L548,560.2 L548.4,564.1 L548.9,568 L549.3,571.9 L549.7,575.8 L550.2,579.6 L550.6,583.5 L551,587.4 L551.5,591.3 L551.9,595.2 L552.3,599.1 L552.7,603 L553.2,606.8 L553.6,610.7 L554,614.6 L554.4,618.5 L554.8,622.4 L555.2,626.3 L555.6,630.1 L556,634 L556.4,637.9 L556.8,641.8 L557.2,645.6 L557.5,649.5 L557.9,653.4 L558.3,657.3 L558.7,661.1 L559.1,665 L559.4,668.9 L559.8,672.8 L560.2,676.6 L560.5,680.5 L560.9,684.4 L561.3,688.2 L561.6,692.1 L562,696 L562.3,699.9 L562.7,703.7 L563.1,707.6 L563.4,711.5 L563.8,715.3 L564.1,719.2 L564.4,723.1 L564.8,726.9 L565.1,730.8 L565.5,734.7 L565.8,738.5 L566.1,742.4 L566.5,746.3 L566.8,750.1 L567.1,754 L567.4,757.9 L567.8,761.7 L568.1,765.6 L568.4,769.4 L568.7,773.3 L569.1,777.2 L569.4,781 L569.7,784.9 L570,788.8 L570.3,792.6 L570.6,796.5 L570.9,800.4 L571.2,804.2 L571.6,808.1 L571.9,811.9 L572.2,815.8 L572.5,819.7 L572.8,823.5 L573.1,827.4 L573.4,831.3 L573.7,835.1 L574,839 L574.3,842.9 L574.6,846.7 L574.9,850.6 L575.2,854.5 L575.4,858.3 L575.7,862.2 L576,866.1 L576.3,869.9 L576.6,873.8 L576.9,877.6 L577.2,881.5 L577.5,885.4 L577.8,889.3 L578,893.1 L578.3,897 L578.6,900.9 L578.9,904.7 L579.2,908.6 L579.5,912.5 L579.7,916.3 L580,920.2 L580.3,924.1 L580.6,927.9 L580.9,931.8 L581.2,935.7 L581.4,939.6 L581.7,943.4 L582,947.3 L582.3,951.2 L582.6,955.1 L582.8,958.9 L583.1,962.8 L583.4,966.7 L583.7,970.6 L584,974.4 L584.2,978.3 L584.5,982.2 L584.8,986.1 L585.1,990 L585.3,993.9 L585.6,997.7 L585.9,1001.6 L586.2,1005.5 L586.5,1009.4 L586.7,1013.3 L587,1017.2 L587.3,1021 L587.6,1024.9 L587.9,1028.8 L588.2,1032.7 L588.4,1036.6 L588.7,1040.5 L589,1044.4 L589.3,1048.3 L589.6,1052.2 L589.9,1056.1 L590.1,1060 L590.4,1063.9 L590.7,1067.8 L591,1071.7 L591.3,1075.6 L591.6,1079.5 L591.9,1083.3 L592.2,1087.2 L592.5,1091.1 L592.9,1095 L593.2,1098.9 L593.5,1102.8 L593.9,1106.7 L594.2,1110.5 L594.6,1114.4 L594.9,1118.3 L595.3,1122.1 L595.7,1126 L596.1,1129.9 L596.5,1133.7 L596.9,1137.6 L597.3,1141.4 L597.7,1145.2 L598.2,1149.1 L598.6,1152.9 L599.1,1156.7 L599.6,1160.5 L600.1,1164.3 L600.6,1168.1 L601.1,1171.9 L601.6,1175.6 L602.2,1179.4 L602.8,1183.2 L603.4,1186.9 L604,1190.7 L604.6,1194.4 L605.2,1198.1 L605.9,1201.8 L606.6,1205.5 L607.3,1209.2 L608,1212.9 L608.8,1216.6 L609.6,1220.4 L610.5,1224.3 L611.5,1228.2 L612.5,1232.3 L613.7,1236.5 L615,1240.9 L616.4,1245.5 L617.9,1250.1 L619.6,1254.5 L621.4,1258.4 L623.4,1261.5 L625.5,1263.6 L627.8,1264.3 L630.2,1263.4 L632.7,1261.2 L635.1,1258.1 L637.3,1254.6 L639.2,1251 L640.8,1247.4 L642.3,1243.7 L643.6,1240 L644.7,1236.2 L645.9,1232.4 L646.9,1228.6 L648.1,1224.8 L649.2,1221 L650.5,1217.2 L652,1213.4 L653.6,1209.6 L655.6,1206.1 L658,1203.3 L660.9,1201.4 L664.3,1200.4 L668,1200.1 L672,1200.3 L676,1200.8 L680,1201.3 L683.9,1201.7 L687.4,1201.6 L690.7,1200.7 L693.7,1199 L696.4,1196.6 L699.1,1193.8 L701.8,1190.9 L704.7,1188 L707.6,1185.4 L710.6,1182.8 L713.6,1180.3 L716.4,1177.6 L719.1,1174.8 L721.7,1171.9 L724,1168.9 L726.3,1165.8 L728.4,1162.6 L730.5,1159.3 L732.4,1155.9 L734.3,1152.5 L736.1,1149 L737.9,1145.6 L739.6,1142.1 L741.2,1138.6 L742.9,1135.1 L744.5,1131.5 L746,1127.9 L747.5,1124.4 L749,1120.8 L750.5,1117.2 L751.9,1113.6 L753.3,1109.9 L754.7,1106.3 L756.1,1102.7 L757.5,1099 L758.8,1095.4 L760.2,1091.7 L761.5,1088.1 L762.9,1084.4 L764.2,1080.8 L765.6,1077.1 L766.9,1073.5 L768.3,1069.9 L769.7,1066.2 L771.1,1062.6 L772.5,1059 L774,1055.4 L775.5,1051.8 L776.9,1048.2 L778.4,1044.7 L780,1041.1 L781.5,1037.6 L783.1,1034 L784.6,1030.5 L786.2,1026.9 L787.8,1023.4 L789.5,1019.9 L791.1,1016.4 L792.8,1012.9 L794.4,1009.4 L796.1,1005.9 L797.8,1002.4 L799.5,999 L801.2,995.5 L803,992 L804.7,988.6 L806.5,985.1 L808.2,981.7 L810,978.2 L811.8,974.8 L813.6,971.3 L815.4,967.9 L817.2,964.5 L819,961 L820.9,957.6 L822.7,954.2 L824.6,950.8 L826.4,947.4 L828.3,944 L830.2,940.6 L832.1,937.2 L834,933.8 L835.9,930.4 L837.8,927 L839.7,923.6 L841.7,920.3 L843.6,916.9 L845.6,913.5 L847.5,910.2 L849.5,906.8 L851.5,903.5 L853.5,900.2 L855.5,896.8 L857.5,893.5 L859.6,890.2 L861.6,886.9 L863.7,883.6 L865.7,880.3 L867.8,877 L869.9,873.7 L872,870.4 L874.1,867.1 L876.2,863.9 L878.3,860.6 L880.5,857.4 L882.6,854.2 L884.8,850.9 L887,847.7 L889.2,844.5 L891.4,841.3 L893.6,838.1 L895.8,834.9 L898,831.7 L900.3,828.6 L902.6,825.4 L904.8,822.3 L907.1,819.1 L909.4,816 L911.7,812.9 L914.1,809.8 L916.4,806.7 L918.8,803.6 L921.1,800.5 L923.5,797.5 L925.9,794.4 L928.3,791.4 L930.7,788.3 L933.2,785.3 L935.6,782.3 L938.1,779.3 L940.6,776.3 L943,773.4 L945.5,770.4 L948.1,767.5 L950.6,764.5 L953.1,761.6 L955.7,758.7 L958.3,755.8 L960.9,752.9 L963.5,750 L966.1,747.2 L968.7,744.3 L971.4,741.5 L974.1,738.7 L976.7,735.9 L979.4,733.1 L982.2,730.3 L984.9,727.6 L987.6,724.8 L990.4,722.1 L993.1,719.4 L995.9,716.7 L998.7,714 L1001.6,711.3 L1004.4,708.7 L1007.2,706 L1010.1,703.4 L1013,700.8 L1015.9,698.2 L1018.8,695.6 L1021.7,693.1 L1024.6,690.5 L1027.6,688 L1030.5,685.5 L1033.5,683 L1036.5,680.5 L1039.5,678.1 L1042.6,675.7 L1045.6,673.2 L1048.7,670.8 L1051.7,668.5 L1054.8,666.1 L1057.9,663.7 L1061.1,661.4 L1064.2,659.1 L1067.3,656.8 L1070.5,654.6 L1073.7,652.3 L1076.9,650.1 L1080.1,647.9 L1083.3,645.7 L1086.6,643.5 L1089.8,641.4 L1093.1,639.2 L1096.4,637.1 L1099.7,635 L1103,633 L1106.3,630.9 L1109.7,628.9 L1113.1,626.9 L1116.4,625 L1119.8,623 L1123.3,621.1 L1126.7,619.3 L1130.1,617.4 L1133.6,615.7 L1137.1,613.9 L1140.6,612.2 L1144.1,610.6 L1147.6,609 L1151.2,607.4 L1154.8,605.9 L1158.4,604.4 L1162,603 L1165.6,601.7 L1169.2,600.4 L1172.9,599.2 L1176.6,598 L1180.3,596.9 L1184,595.9 L1187.8,594.9 L1191.5,594 L1195.3,593.1 L1199.1,592.2 L1202.9,591.4 L1206.7,590.6 L1210.5,589.8 L1214.3,589 L1218.1,588.2 L1221.9,587.5 L1225.7,586.7 L1229.5,586 L1233.4,585.2 L1237.2,584.4 L1241,583.5 L1244.8,582.7 L1248.6,581.8 L1252.4,580.9 L1256.1,579.9 L1259.9,578.9 L1263.7,577.9 L1267.4,576.9 L1271.2,575.9 L1275,574.9 L1278.7,573.9 L1282.5,572.9 L1286.2,572 L1290,571.1 L1293.8,570.3 L1297.6,569.5 L1301.4,568.8 L1305.2,568.1 L1309,567.6 L1312.8,567.1 L1316.7,566.6 L1320.5,566.3 L1324.4,566 L1328.2,565.7 L1332.1,565.5 L1336,565.3 L1339.9,565.2 L1343.7,565.1 L1347.6,565.1 L1351.5,565.1 L1355.4,565.1 L1359.3,565.2 L1363.3,565.2 L1367.2,565.3 L1371.1,565.4 L1375,565.6 L1378.9,565.7 L1382.8,565.9 L1386.7,566 L1390.6,566.2 L1394.5,566.3 L1398.5,566.4 L1402.4,566.6 L1406.3,566.7 L1410.2,566.8 L1414.1,566.9 L1417.9,567 L1421.8,567.1 L1425.7,567.2 L1429.6,567.2 L1433.5,567.3 L1437.4,567.4 L1441.3,567.4 L1445.2,567.5 L1449,567.5 L1452.9,567.6 L1456.8,567.6 L1460.7,567.6 L1464.5,567.7 L1468.4,567.7 L1472.3,567.7 L1476.2,567.8 L1480,567.8 L1483.9,567.8 L1487.8,567.9 L1491.7,567.9 L1495.6,567.9 L1499.4,568 L1503.3,568 L1507.2,568.1 L1511.1,568.2 L1515,568.2 L1518.8,568.3 L1522.7,568.4 L1526.6,568.5 L1530.5,568.6 L1534.4,568.7 L1538.3,568.8 L1542.2,568.9 L1546,569.1 L1549.9,569.2 L1553.8,569.4 L1557.7,569.6 L1561.6,569.8 L1565.4,570 L1569.3,570.2 L1573.2,570.5 L1577.1,570.8 L1580.9,571.1 L1584.8,571.4 L1588.7,571.7 L1592.5,572.1 L1596.4,572.5 L1600.3,572.9 L1604.1,573.3 L1608,573.8 L1611.8,574.2 L1615.7,574.8 L1619.5,575.3 L1623.4,575.9 L1627.2,576.4 L1631.1,577.1 L1634.9,577.7 L1638.7,578.4 L1642.6,579.1 L1646.4,579.9 L1650.2,580.7 L1654,581.5"/>
<path stroke="#008000" d="M323.5,565.9 L325.9,567.9 L329,571.1 L332.3,574.2 L335.7,576.3 L338.8,576.2 L341.7,574 L344.9,571.2 L348.5,569.1 L352.5,567.7 L356.5,567 L360.4,567 L363.9,567.7 L366.9,569.2 L369.5,571.2 L371.7,573.8 L373.6,576.9 L375.2,580.3 L376.7,584 L377.9,587.9 L379.1,592 L380.3,596 L381.5,600.1 L382.7,604.1 L384,608 L385.3,611.8 L386.7,615.5 L388.1,619.2 L389.6,622.8 L391,626.4 L392.5,629.9 L394,633.4 L395.6,636.8 L397.1,640.2 L398.6,643.6 L400.1,647 L401.6,650.4 L403,653.8 L404.5,657.2 L405.9,660.6 L407.3,664.1 L408.8,667.6 L410.3,671.2 L412.1,674.8 L414,678.6 L416.2,682.6 L418.6,686.6 L421.3,690.6 L424.1,694 L427,696.5 L429.8,697.6 L432.5,697 L435,694.9 L437.3,691.8 L439.3,688 L441.1,684.2 L442.7,680.4 L444.2,676.6 L445.4,672.8 L446.5,669.1 L447.4,665.3 L448.2,661.5 L449,657.7 L449.6,653.9 L450.2,650.1 L450.8,646.4 L451.4,642.6 L451.9,638.7 L452.5,634.9 L453.2,631.1 L453.8,627.2 L454.6,623.4 L455.3,619.6 L456.1,615.7 L457,611.9 L457.9,608.1 L458.9,604.3 L460,600.6 L461.1,596.8 L462.3,593.1 L463.6,589.4 L465,585.8 L466.4,582.2 L468,578.6 L469.6,575.1 L471.3,571.6 L473,568.1 L474.8,564.7 L476.6,561.2 L478.3,557.8 L480.1,554.3 L481.8,550.8 L483.4,547.3 L485,543.8 L486.5,540.2 L487.9,536.5 L489.2,532.8 L490.5,529.1 L491.7,525.4 L492.7,521.6 L493.8,517.8 L494.8,514 L495.7,510.2 L496.5,506.4 L497.4,502.6 L498.2,498.8 L499,495 L499.7,491.3 L500.4,487.6 L501.2,483.9 L501.9,480.3 L502.6,476.6 L503.3,472.9 L504.1,469.1 L504.9,465.1 L505.7,461 L506.6,456.6 L507.7,452.3 L509.4,448.7 L511.9,446.5 L515.3,446 L518.8,447 L521.8,449.2 L524,452.3 L525.6,456 L526.9,459.8 L528,463.7 L529.1,467.6 L530,471.5 L530.8,475.4 L531.5,479.2 L532.2,483.1 L532.8,486.9 L533.3,490.7 L533.9,494.6 L534.4,498.4 L534.8,502.2 L535.3,506.1 L535.8,509.9 L536.3,513.8 L536.7,517.6 L537.2,521.5 L537.6,525.3 L538,529.2 L538.5,533 L538.9,536.9 L539.3,540.7 L539.7,544.6 L540.1,548.5 L540.5,552.3 L540.9,556.2 L541.3,560.1 L541.6,563.9 L542,567.8 L542.4,571.7 L542.8,575.6 L543.1,579.4 L543.5,583.3 L543.9,587.2 L544.2,591.1 L544.6,594.9 L545,598.8 L545.3,602.7 L545.7,606.6 L546,610.5 L546.4,614.3 L546.7,618.2 L547.1,622.1 L547.5,626 L547.8,629.9 L548.2,633.7 L548.6,637.6 L548.9,641.5 L549.3,645.4 L549.7,649.2 L550,653.1 L550.4,657 L550.8,660.9 L551.2,664.7 L551.5,668.6 L551.9,672.5 L552.3,676.4 L552.7,680.2 L553.1,684.1 L553.4,688 L553.8,691.9 L554.2,695.7 L554.6,699.6 L555,703.5 L555.4,707.3 L555.8,711.2 L556.2,715.1 L556.5,719 L556.9,722.8 L557.3,726.7 L557.7,730.6 L558.1,734.4 L558.5,738.3 L558.9,742.2 L559.3,746 L559.7,749.9 L560.1,753.8 L560.4,757.7 L560.8,761.5 L561.2,765.4 L561.6,769.3 L562,773.1 L562.4,777 L562.8,780.9 L563.2,784.7 L563.5,788.6 L563.9,792.5 L564.3,796.4 L564.7,800.2 L565.1,804.1 L565.4,808 L565.8,811.8 L566.2,815.7 L566.6,819.6 L566.9,823.5 L567.3,827.3 L567.7,831.2 L568,835.1 L568.4,838.9 L568.8,842.8 L569.1,846.7 L569.5,850.6 L569.9,854.4 L570.2,858.3 L570.6,862.2 L570.9,866.1 L571.3,869.9 L571.6,873.8 L572,877.7 L572.3,881.6 L572.6,885.4 L573,889.3 L573.3,893.2 L573.7,897.1 L574,900.9 L574.4,904.8 L574.7,908.7 L575.1,912.6 L575.4,916.4 L575.8,920.3 L576.2,924.2 L576.5,928.1 L576.9,932 L577.3,935.8 L577.6,939.7 L578,943.6 L578.4,947.5 L578.8,951.4 L579.2,955.2 L579.6,959.1 L580.1,963 L580.6,966.8 L581.1,970.7 L581.6,974.5 L582.2,978.4 L582.8,982.2 L583.5,986.1 L584.2,989.9 L584.9,993.7 L585.7,997.5 L586.6,1001.3 L587.5,1005.1 L588.5,1008.8 L589.5,1012.6 L590.6,1016.3 L591.7,1020 L592.9,1023.7 L594.2,1027.4 L595.5,1031 L596.9,1034.7 L598.4,1038.3 L599.9,1041.9 L601.5,1045.4 L603.1,1048.9 L604.8,1052.4 L606.6,1055.9 L608.5,1059.4 L610.4,1062.8 L612.3,1066.2 L614.2,1069.6 L616.1,1073 L617.8,1076.4 L619.3,1080 L620.7,1083.5 L621.9,1087.2 L623,1090.9 L624,1094.6 L624.8,1098.4 L625.6,1102.2 L626.3,1106 L627,1109.9 L627.6,1113.8 L628.3,1117.7 L628.9,1121.6 L629.6,1125.5 L630.4,1129.3 L631.3,1133.2 L632.2,1137.1 L633.2,1140.9 L634.3,1144.7 L635.5,1148.5 L636.7,1152.3 L637.9,1156 L639.1,1159.7 L640.3,1163.4 L641.5,1167.1 L642.7,1170.8 L643.8,1174.4 L644.9,1178 L646,1181.5 L647,1185.1 L648.1,1188.7 L649.3,1192.3 L650.5,1196 L651.7,1199.7 L653.1,1203.4 L654.5,1207.2 L656.1,1211.1 L657.8,1215 L659.7,1219 L661.8,1222.9 L664.1,1226.2 L666.7,1228.5 L669.6,1229.2 L672.8,1228.1 L676,1225.6 L678.9,1222.2 L681.2,1218.6 L682.8,1214.8 L684.1,1211 L685.3,1207.3 L686.4,1203.6 L687.8,1200.2 L689.7,1196.9 L691.8,1193.8 L693.7,1190.6 L695.2,1187.1 L696.3,1183.4 L697,1179.5 L697.5,1175.5 L697.8,1171.4 L698.1,1167.3 L698.5,1163.2 L699,1159.2 L699.8,1155.4 L701,1151.7 L702.5,1148.3 L704.3,1144.9 L706.3,1141.8 L708.6,1138.7 L711,1135.7 L713.5,1132.8 L716.2,1130 L719,1127.2 L721.7,1124.3 L724.5,1121.5 L727.3,1118.7 L729.9,1115.8 L732.5,1112.9 L734.9,1109.9 L737.2,1106.7 L739.3,1103.5 L741.2,1100.2 L743.1,1096.8 L744.9,1093.4 L746.5,1089.9 L748.1,1086.4 L749.7,1082.8 L751.2,1079.3 L752.8,1075.7 L754.3,1072.1 L755.8,1068.5 L757.4,1065 L759.1,1061.5 L760.7,1057.9 L762.4,1054.4 L764.1,1050.9 L765.8,1047.5 L767.5,1044 L769.3,1040.5 L771,1037.1 L772.8,1033.6 L774.6,1030.1 L776.3,1026.7 L778.1,1023.2 L779.9,1019.8 L781.6,1016.3 L783.4,1012.8 L785.1,1009.4 L786.9,1005.9 L788.6,1002.4 L790.3,998.8 L791.9,995.3 L793.6,991.8 L795.2,988.3 L796.9,984.7 L798.5,981.2 L800.2,977.6 L801.8,974.1 L803.4,970.6 L805.1,967 L806.7,963.5 L808.4,960 L810.1,956.5 L811.8,953 L813.5,949.5 L815.3,946 L817,942.6 L818.8,939.1 L820.7,935.7 L822.5,932.3 L824.4,928.9 L826.4,925.6 L828.3,922.2 L830.4,918.9 L832.4,915.7 L834.5,912.4 L836.6,909.2 L838.8,906 L841,902.8 L843.2,899.6 L845.4,896.4 L847.7,893.2 L850,890.1 L852.2,886.9 L854.5,883.7 L856.8,880.6 L859.1,877.4 L861.4,874.3 L863.6,871.1 L865.9,867.9 L868.2,864.8 L870.4,861.6 L872.6,858.3 L874.8,855.1 L877,851.9 L879.1,848.6 L881.2,845.3 L883.3,842 L885.3,838.6 L887.4,835.3 L889.5,832 L891.5,828.7 L893.6,825.3 L895.7,822 L897.8,818.8 L899.9,815.5 L902,812.3 L904.2,809.1 L906.5,805.9 L908.7,802.7 L911,799.6 L913.3,796.5 L915.7,793.5 L918.1,790.4 L920.5,787.4 L922.9,784.4 L925.3,781.4 L927.8,778.4 L930.3,775.4 L932.8,772.5 L935.3,769.6 L937.9,766.6 L940.5,763.7 L943.1,760.9 L945.7,758 L948.3,755.1 L950.9,752.2 L953.5,749.4 L956.2,746.5 L958.9,743.7 L961.5,740.8 L964.2,738 L966.9,735.2 L969.6,732.4 L972.3,729.6 L975.1,726.8 L977.8,724 L980.6,721.2 L983.4,718.5 L986.1,715.7 L988.9,713 L991.8,710.3 L994.6,707.6 L997.4,704.9 L1000.3,702.2 L1003.1,699.5 L1006,696.9 L1008.9,694.2 L1011.8,691.6 L1014.7,689 L1017.7,686.4 L1020.6,683.9 L1023.6,681.3 L1026.6,678.8 L1029.6,676.3 L1032.6,673.8 L1035.6,671.4 L1038.6,668.9 L1041.7,666.5 L1044.8,664.1 L1047.9,661.7 L1051,659.3 L1054.1,657 L1057.2,654.7 L1060.4,652.4 L1063.6,650.2 L1066.7,647.9 L1069.9,645.7 L1073.2,643.5 L1076.4,641.4 L1079.7,639.3 L1082.9,637.2 L1086.2,635.1 L1089.5,633.1 L1092.9,631.1 L1096.2,629.1 L1099.6,627.1 L1102.9,625.2 L1106.3,623.3 L1109.8,621.5 L1113.2,619.7 L1116.6,617.9 L1120.1,616.1 L1123.6,614.4 L1127.1,612.7 L1130.6,611 L1134.1,609.4 L1137.7,607.8 L1141.2,606.2 L1144.8,604.7 L1148.4,603.2 L1152,601.7 L1155.6,600.3 L1159.3,598.9 L1162.9,597.5 L1166.5,596.2 L1170.2,594.9 L1173.9,593.6 L1177.6,592.4 L1181.3,591.2 L1185,590 L1188.7,588.9 L1192.4,587.8 L1196.2,586.7 L1199.9,585.7 L1203.7,584.7 L1207.5,583.7 L1211.2,582.8 L1215,581.9 L1218.8,581.1 L1222.6,580.2 L1226.4,579.4 L1230.2,578.7 L1234,578 L1237.9,577.3 L1241.7,576.6 L1245.5,576 L1249.4,575.4 L1253.2,574.9 L1257.1,574.4 L1260.9,573.9 L1264.8,573.5 L1268.6,573 L1272.5,572.7 L1276.4,572.3 L1280.2,572 L1284.1,571.7 L1288,571.4 L1291.9,571.2 L1295.8,571 L1299.6,570.8 L1303.5,570.6 L1307.4,570.5 L1311.3,570.4 L1315.2,570.3 L1319.1,570.2 L1323,570.1 L1326.9,570.1 L1330.8,570 L1334.7,570 L1338.6,570 L1342.5,570 L1346.5,570.1 L1350.4,570.1 L1354.3,570.1 L1358.2,570.2 L1362.1,570.3 L1366,570.4 L1369.9,570.4 L1373.8,570.5 L1377.7,570.6 L1381.7,570.7 L1385.6,570.9 L1389.5,571 L1393.4,571.1 L1397.3,571.2 L1401.2,571.3 L1405.1,571.4 L1409,571.5 L1412.9,571.6 L1416.8,571.7 L1420.7,571.8 L1424.6,571.9 L1428.5,572 L1432.4,572.1 L1436.3,572.2 L1440.2,572.3 L1444.1,572.3 L1448,572.4 L1451.9,572.5 L1455.7,572.5 L1459.6,572.6 L1463.5,572.7 L1467.4,572.7 L1471.3,572.8 L1475.2,572.8 L1479,572.9 L1482.9,572.9 L1486.8,573 L1490.7,573 L1494.6,573.1 L1498.4,573.1 L1502.3,573.1 L1506.2,573.2 L1510.1,573.2 L1513.9,573.3 L1517.8,573.3 L1521.7,573.4 L1525.6,573.4 L1529.4,573.4 L1533.3,573.5 L1537.2,573.5 L1541.1,573.6 L1545,573.6 L1548.8,573.6 L1552.7,573.7 L1556.6,573.7 L1560.5,573.8 L1564.4,573.8 L1568.2,573.9 L1572.1,574 L1576,574 L1579.9,574.1 L1583.8,574.1 L1587.7,574.2 L1591.6,574.3 L1595.4,574.4 L1599.3,574.4 L1603.2,574.5 L1607.1,574.6 L1611,574.7 L1614.9,574.8 L1618.8,574.9 L1622.7,575 L1626.6,575.1 L1630.5,575.2 L1634.4,575.3 L1638.3,575.5 L1642.3,575.6 L1646.2,575.7 L1650.1,575.9 L1654,576"/>
</g>
<rect x="323.5" y="356.3" width="1331" height="983.6" fill="none" stroke="#111" stroke-width="3.4"/>
<path d="M323.5,1339.9 V1360.4 M513.6,1339.9 V1360.4 M703.8,1339.9 V1360.4 M893.9,1339.9 V1360.4 M1084.1,1339.9 V1360.4 M1274.2,1339.9 V1360.4 M1464.4,1339.9 V1360.4 M1654.5,1339.9 V1360.4 M323.5,356.3 H311.5 M323.5,426.6 H303 M323.5,496.8 H311.5 M323.5,567.1 H303 M323.5,637.3 H311.5 M323.5,707.6 H303 M323.5,777.8 H311.5 M323.5,848.1 H303 M323.5,918.4 H311.5 M323.5,988.6 H303 M323.5,1058.9 H311.5 M323.5,1129.1 H303 M323.5,1199.4 H311.5 M323.5,1269.6 H303 M323.5,1339.9 H311.5" stroke="#111" stroke-width="3.4" fill="none"/>
<g font-family="Liberation Sans, Arial, sans-serif" font-size="39.4" fill="#111">
<text x="323.5" y="1404.3" text-anchor="middle">200</text>
<text x="513.6" y="1404.3" text-anchor="middle">210</text>
<text x="703.8" y="1404.3" text-anchor="middle">220</text>
<text x="893.9" y="1404.3" text-anchor="middle">230</text>
<text x="1084.1" y="1404.3" text-anchor="middle">240</text>
<text x="1274.2" y="1404.3" text-anchor="middle">250</text>
<text x="1464.4" y="1404.3" text-anchor="middle">260</text>
<text x="1654.5" y="1404.3" text-anchor="middle">270</text>
<text x="289.5" y="436.3" text-anchor="end">5000</text>
<text x="289.5" y="576.8" text-anchor="end">0</text>
<text x="289.5" y="717.3" text-anchor="end">-5000</text>
<text x="289.5" y="857.8" text-anchor="end">-10000</text>
<text x="289.5" y="998.3" text-anchor="end">-15000</text>
<text x="289.5" y="1138.8" text-anchor="end">-20000</text>
<text x="289.5" y="1279.3" text-anchor="end">-25000</text>
</g>
<text x="0" y="0" font-family="Liberation Serif, serif" font-size="48" fill="#111" transform="translate(898.5,1511.2) scale(1.2,1) translate(0,0)">λ</text>
<text x="938" y="1511.2" font-family="Liberation Sans, Arial, sans-serif" font-weight="bold" font-size="50.7" fill="#111">(nm)</text>
<g transform="translate(83,942.4) rotate(-90)" fill="#111" font-family="Liberation Sans, Arial, sans-serif">
<text x="0" y="0" font-weight="bold" font-size="46.5">[</text>
<text x="16" y="0" font-size="42">θ</text>
<text x="38" y="0" font-weight="bold" font-size="46.5">]</text>
<text x="54" y="20" font-weight="bold" font-size="49.5">MR</text>
</g>
<rect x="1349" y="1052.9" width="276.3" height="244.1" fill="#fff" stroke="#333" stroke-width="2.2"/>
<path d="M1364,1080.8 H1453.4" stroke="#000000" stroke-width="6" stroke-linecap="round"/>
<text x="1464.3" y="1093.5" font-family="Liberation Sans, Arial, sans-serif" font-size="39.6" fill="#111">0 mM</text>
<path d="M1364,1129.1 H1453.4" stroke="#ff0000" stroke-width="6" stroke-linecap="round"/>
<text x="1464.3" y="1141.8" font-family="Liberation Sans, Arial, sans-serif" font-size="39.6" fill="#111">0.05 mM</text>
<path d="M1364,1178.4 H1453.4" stroke="#0000ff" stroke-width="6" stroke-linecap="round"/>
<text x="1464.3" y="1191.1" font-family="Liberation Sans, Arial, sans-serif" font-size="39.6" fill="#111">0.1 mM</text>
<path d="M1364,1226.5 H1453.4" stroke="#ff00ff" stroke-width="6" stroke-linecap="round"/>
<text x="1464.3" y="1239.2" font-family="Liberation Sans, Arial, sans-serif" font-size="39.6" fill="#111">0.2 mM</text>
<path d="M1364,1275.9 H1453.4" stroke="#008000" stroke-width="6" stroke-linecap="round"/>
<text x="1464.3" y="1288.6" font-family="Liberation Sans, Arial, sans-serif" font-size="39.6" fill="#111">0.5 mM</text>
<clipPath id="cb"><rect x="309.2" y="1892.3" width="1368" height="1051.5"/></clipPath>
<g clip-path="url(#cb)" fill="none" stroke-width="6.0" stroke-linejoin="round" stroke-linecap="round">
<path stroke="#000000" d="M309.9,2121.5 L312.7,2124.2 L315.3,2127 L317.8,2129.9 L320.1,2132.8 L322.3,2135.9 L324.4,2139.1 L326.5,2142.3 L328.4,2145.6 L330.2,2149 L331.9,2152.4 L333.6,2155.9 L335.1,2159.4 L336.6,2163 L338.1,2166.6 L339.5,2170.3 L340.8,2173.9 L342.1,2177.6 L343.4,2181.2 L344.7,2184.9 L345.9,2188.6 L347.1,2192.3 L348.2,2196 L349.3,2199.7 L350.4,2203.4 L351.5,2207.1 L352.5,2210.8 L353.5,2214.5 L354.5,2218.3 L355.5,2222 L356.5,2225.7 L357.4,2229.5 L358.3,2233.2 L359.2,2237 L360.1,2240.7 L360.9,2244.5 L361.8,2248.2 L362.6,2252 L363.4,2255.8 L364.2,2259.5 L365,2263.3 L365.8,2267.1 L366.6,2270.9 L367.4,2274.6 L368.1,2278.4 L368.9,2282.2 L369.7,2286 L370.4,2289.8 L371.2,2293.6 L371.9,2297.3 L372.7,2301.1 L373.4,2304.9 L374.2,2308.7 L374.9,2312.5 L375.7,2316.3 L376.5,2320 L377.2,2323.8 L378,2327.6 L378.8,2331.4 L379.6,2335.2 L380.4,2338.9 L381.3,2342.7 L382.1,2346.5 L383,2350.2 L383.8,2354 L384.7,2357.7 L385.6,2361.5 L386.5,2365.3 L387.4,2369 L388.3,2372.8 L389.3,2376.5 L390.2,2380.3 L391.1,2384 L392.1,2387.8 L393,2391.5 L394,2395.2 L395,2399 L396,2402.7 L396.9,2406.5 L397.9,2410.2 L398.9,2413.9 L399.9,2417.7 L400.9,2421.4 L401.9,2425.1 L402.9,2428.9 L403.9,2432.6 L404.9,2436.3 L405.9,2440.1 L406.8,2443.8 L407.8,2447.5 L408.8,2451.3 L409.8,2455 L410.8,2458.7 L411.8,2462.5 L412.7,2466.2 L413.7,2470 L414.7,2473.7 L415.6,2477.4 L416.6,2481.2 L417.5,2484.9 L418.4,2488.7 L419.3,2492.4 L420.3,2496.1 L421.2,2499.9 L422.1,2503.6 L423,2507.4 L423.9,2511.1 L424.8,2514.9 L425.7,2518.6 L426.6,2522.4 L427.5,2526.1 L428.4,2529.8 L429.3,2533.6 L430.3,2537.3 L431.2,2541.1 L432.1,2544.8 L433.1,2548.5 L434,2552.3 L435,2556 L436,2559.7 L437,2563.5 L438,2567.2 L439,2570.9 L440.1,2574.7 L441.1,2578.4 L442.2,2582.1 L443.3,2585.8 L444.4,2589.5 L445.6,2593.2 L446.7,2596.9 L447.9,2600.6 L449.1,2604.3 L450.4,2608 L451.7,2611.6 L453,2615.3 L454.4,2618.9 L455.8,2622.5 L457.3,2626.1 L458.9,2629.6 L460.5,2633.1 L462.1,2636.6 L463.8,2640.1 L465.6,2643.5 L467.5,2646.8 L469.4,2650.1 L471.4,2653.4 L473.5,2656.6 L475.7,2659.8 L478,2662.9 L480.4,2665.9 L482.8,2668.9 L485.5,2671.7 L488.2,2674.3 L491.3,2676.5 L494.5,2678.3 L497.9,2680 L501.5,2681.6 L505.1,2683.2 L508.7,2684.9 L512.4,2686.5 L516.1,2687.9 L519.8,2689.1 L523.6,2690.1 L527.3,2690.8 L531.1,2691.2 L534.8,2691.4 L538.6,2691.4 L542.4,2691.2 L546.1,2690.8 L549.9,2690.3 L553.7,2689.7 L557.5,2688.9 L561.3,2688.1 L565.1,2687.3 L568.9,2686.4 L572.7,2685.5 L576.5,2684.7 L580.3,2683.8 L584.1,2683 L587.9,2682.3 L591.7,2681.7 L595.5,2681.1 L599.4,2680.6 L603.2,2680.2 L607,2679.9 L610.8,2679.7 L614.6,2679.5 L618.4,2679.5 L622.2,2679.6 L626.1,2679.8 L629.9,2680.1 L633.7,2680.6 L637.6,2681.2 L641.4,2681.8 L645.3,2682.6 L649.1,2683.4 L653,2684.2 L656.8,2685 L660.7,2685.8 L664.5,2686.4 L668.4,2686.9 L672.2,2687.3 L676.1,2687.6 L679.9,2687.7 L683.8,2687.7 L687.6,2687.5 L691.4,2687.3 L695.2,2686.9 L699,2686.4 L702.8,2685.8 L706.5,2685 L710.3,2684.1 L714,2683.2 L717.6,2682.1 L721.3,2680.8 L724.9,2679.5 L728.4,2678 L731.9,2676.5 L735.4,2674.8 L738.9,2673 L742.3,2671.2 L745.6,2669.2 L748.9,2667.1 L752.2,2664.9 L755.4,2662.7 L758.5,2660.4 L761.6,2658 L764.7,2655.5 L767.6,2653 L770.6,2650.4 L773.4,2647.7 L776.3,2645 L779,2642.3 L781.7,2639.5 L784.3,2636.7 L786.9,2633.8 L789.4,2630.9 L791.9,2628 L794.3,2625 L796.7,2622 L799.1,2619 L801.4,2616 L803.7,2612.9 L805.9,2609.8 L808.2,2606.7 L810.4,2603.5 L812.6,2600.4 L814.7,2597.2 L816.9,2594 L819,2590.8 L821.1,2587.6 L823.2,2584.4 L825.3,2581.2 L827.3,2577.9 L829.4,2574.6 L831.4,2571.4 L833.4,2568.1 L835.4,2564.8 L837.4,2561.5 L839.4,2558.2 L841.4,2554.9 L843.3,2551.5 L845.3,2548.2 L847.2,2544.8 L849.1,2541.5 L851,2538.1 L852.9,2534.8 L854.8,2531.4 L856.7,2528 L858.5,2524.6 L860.4,2521.2 L862.2,2517.8 L864.1,2514.4 L865.9,2511 L867.7,2507.6 L869.6,2504.1 L871.4,2500.7 L873.2,2497.3 L875,2493.8 L876.8,2490.4 L878.6,2487 L880.4,2483.5 L882.2,2480.1 L883.9,2476.7 L885.7,2473.2 L887.5,2469.8 L889.3,2466.3 L891.1,2462.9 L892.8,2459.4 L894.6,2456 L896.4,2452.6 L898.1,2449.1 L899.9,2445.7 L901.7,2442.3 L903.5,2438.8 L905.2,2435.4 L907,2432 L908.8,2428.5 L910.6,2425.1 L912.4,2421.7 L914.1,2418.3 L915.9,2414.9 L917.7,2411.5 L919.5,2408.1 L921.3,2404.7 L923.1,2401.3 L924.9,2397.9 L926.8,2394.5 L928.6,2391.2 L930.4,2387.8 L932.2,2384.4 L934,2381 L935.8,2377.6 L937.7,2374.2 L939.5,2370.8 L941.3,2367.5 L943.2,2364.1 L945,2360.7 L946.9,2357.3 L948.7,2353.9 L950.5,2350.5 L952.4,2347.1 L954.2,2343.7 L956.1,2340.3 L958,2336.9 L959.8,2333.5 L961.7,2330.1 L963.5,2326.6 L965.4,2323.2 L967.3,2319.8 L969.1,2316.3 L971,2312.9 L972.9,2309.5 L974.9,2306.1 L976.9,2302.7 L978.9,2299.4 L981.1,2296.2 L983.3,2293.1 L985.7,2290.1 L988.3,2287.3 L991,2284.6 L993.9,2282.1 L996.9,2279.7 L1000.1,2277.5 L1003.4,2275.4 L1006.8,2273.4 L1010.2,2271.4 L1013.6,2269.4 L1016.9,2267.3 L1020.2,2265.1 L1023.2,2262.8 L1026.1,2260.4 L1028.7,2257.7 L1031.1,2254.8 L1033.2,2251.6 L1035.3,2248.4 L1037.2,2245.1 L1039.2,2241.8 L1041.3,2238.5 L1043.5,2235.4 L1045.9,2232.4 L1048.6,2229.6 L1051.4,2227 L1054.3,2224.5 L1057.4,2222 L1060.5,2219.7 L1063.8,2217.5 L1067,2215.3 L1070.3,2213.2 L1073.7,2211.2 L1077,2209.1 L1080.4,2207.2 L1083.7,2205.2 L1087.1,2203.4 L1090.5,2201.5 L1093.9,2199.7 L1097.4,2198 L1100.8,2196.2 L1104.3,2194.6 L1107.7,2192.9 L1111.2,2191.3 L1114.7,2189.7 L1118.2,2188.2 L1121.8,2186.7 L1125.3,2185.2 L1128.9,2183.8 L1132.4,2182.4 L1136,2181 L1139.6,2179.6 L1143.2,2178.3 L1146.9,2177 L1150.5,2175.7 L1154.1,2174.4 L1157.8,2173.2 L1161.4,2172 L1165.1,2170.8 L1168.8,2169.6 L1172.5,2168.5 L1176.2,2167.3 L1179.9,2166.3 L1183.6,2165.2 L1187.4,2164.2 L1191.1,2163.2 L1194.9,2162.3 L1198.6,2161.4 L1202.4,2160.6 L1206.2,2159.8 L1210,2159.1 L1213.8,2158.5 L1217.6,2157.9 L1221.4,2157.5 L1225.2,2157.1 L1229.1,2156.7 L1232.9,2156.4 L1236.7,2156.2 L1240.6,2156 L1244.5,2155.8 L1248.3,2155.7 L1252.2,2155.6 L1256,2155.6 L1259.9,2155.5 L1263.8,2155.5 L1267.7,2155.5 L1271.5,2155.5 L1275.4,2155.5 L1279.3,2155.5 L1283.2,2155.5 L1287,2155.5 L1290.9,2155.4 L1294.8,2155.4 L1298.6,2155.3 L1302.5,2155.3 L1306.3,2155.2 L1310.2,2155.2 L1314.1,2155.1 L1317.9,2155 L1321.8,2154.9 L1325.7,2154.9 L1329.5,2154.8 L1333.4,2154.7 L1337.2,2154.6 L1341.1,2154.5 L1344.9,2154.5 L1348.8,2154.4 L1352.7,2154.3 L1356.5,2154.2 L1360.4,2154.2 L1364.2,2154.1 L1368.1,2154.1 L1371.9,2154 L1375.8,2154 L1379.7,2153.9 L1383.5,2153.9 L1387.4,2153.8 L1391.2,2153.8 L1395.1,2153.8 L1399,2153.7 L1402.8,2153.7 L1406.7,2153.7 L1410.5,2153.7 L1414.4,2153.7 L1418.3,2153.7 L1422.1,2153.7 L1426,2153.7 L1429.8,2153.7 L1433.7,2153.7 L1437.6,2153.7 L1441.4,2153.7 L1445.3,2153.7 L1449.1,2153.7 L1453,2153.7 L1456.9,2153.7 L1460.7,2153.7 L1464.6,2153.8 L1468.5,2153.8 L1472.3,2153.8 L1476.2,2153.8 L1480,2153.8 L1483.9,2153.9 L1487.8,2153.9 L1491.6,2153.9 L1495.5,2153.9 L1499.4,2154 L1503.2,2154 L1507.1,2154 L1510.9,2154.1 L1514.8,2154.1 L1518.7,2154.1 L1522.5,2154.2 L1526.4,2154.2 L1530.3,2154.2 L1534.1,2154.2 L1538,2154.3 L1541.8,2154.3 L1545.7,2154.3 L1549.6,2154.4 L1553.4,2154.4 L1557.3,2154.4 L1561.2,2154.4 L1565,2154.5 L1568.9,2154.5 L1572.7,2154.5 L1576.6,2154.5 L1580.5,2154.6 L1584.3,2154.6 L1588.2,2154.6 L1592.1,2154.6 L1595.9,2154.6 L1599.8,2154.6 L1603.6,2154.6 L1607.5,2154.6 L1611.4,2154.6 L1615.2,2154.6 L1619.1,2154.6 L1623,2154.6 L1626.8,2154.6 L1630.7,2154.6 L1634.5,2154.6 L1638.4,2154.6 L1642.3,2154.6 L1646.1,2154.5 L1650,2154.5 L1653.8,2154.5 L1657.7,2154.4 L1661.6,2154.4 L1665.4,2154.4 L1669.3,2154.3 L1673.1,2154.3 L1677,2154.2"/>
<path stroke="#ff0000" d="M309.3,2124.7 L312.3,2122.3 L315.1,2119.7 L317.6,2116.9 L319.9,2113.8 L322.1,2110.6 L324.1,2107.2 L326,2103.7 L327.9,2100.2 L329.7,2096.6 L331.5,2093 L333.3,2089.4 L335.3,2085.8 L337.3,2082.4 L339.4,2079.1 L341.7,2075.9 L344.3,2072.9 L347,2070.1 L349.9,2067.9 L353,2066.5 L356.2,2066.2 L359.4,2067 L362.4,2068.7 L365.2,2070.9 L367.7,2073.6 L369.9,2076.6 L371.9,2079.9 L373.7,2083.4 L375.3,2087.2 L376.7,2091.1 L378.1,2095 L379.4,2099 L380.7,2103 L382,2106.8 L383.3,2110.6 L384.7,2114.3 L386.1,2117.9 L387.5,2121.5 L389,2125 L390.5,2128.4 L392.1,2131.8 L393.6,2135.2 L395.2,2138.6 L396.9,2142 L398.6,2145.4 L400.3,2148.8 L402,2152.2 L403.7,2155.7 L405.4,2159.2 L407.1,2162.7 L408.8,2166.2 L410.5,2169.8 L412.2,2173.3 L413.8,2176.9 L415.3,2180.5 L416.8,2184.2 L418.3,2187.8 L419.6,2191.5 L420.9,2195.2 L422.1,2198.9 L423.2,2202.6 L424.1,2206.4 L425,2210.2 L425.9,2213.9 L426.6,2217.7 L427.3,2221.5 L428,2225.3 L428.6,2229.1 L429.2,2233 L429.9,2236.8 L430.5,2240.6 L431.2,2244.4 L432,2248.2 L432.7,2252 L433.5,2255.8 L434.3,2259.5 L435.1,2263.3 L436,2267.1 L436.8,2270.9 L437.7,2274.6 L438.6,2278.4 L439.5,2282.1 L440.5,2285.9 L441.4,2289.7 L442.4,2293.4 L443.4,2297.2 L444.4,2300.9 L445.4,2304.7 L446.4,2308.4 L447.4,2312.2 L448.4,2315.9 L449.4,2319.6 L450.4,2323.4 L451.4,2327.1 L452.4,2330.9 L453.4,2334.6 L454.4,2338.4 L455.4,2342.1 L456.4,2345.9 L457.4,2349.6 L458.3,2353.4 L459.3,2357.2 L460.2,2360.9 L461.1,2364.7 L462,2368.5 L462.9,2372.2 L463.8,2376 L464.6,2379.8 L465.4,2383.6 L466.2,2387.4 L467,2391.2 L467.8,2395 L468.5,2398.8 L469.3,2402.6 L470,2406.4 L470.7,2410.2 L471.3,2414 L472,2417.8 L472.7,2421.6 L473.3,2425.4 L473.9,2429.3 L474.6,2433.1 L475.2,2436.9 L475.8,2440.8 L476.3,2444.6 L476.9,2448.4 L477.5,2452.3 L478,2456.1 L478.6,2459.9 L479.1,2463.8 L479.7,2467.6 L480.2,2471.4 L480.7,2475.3 L481.3,2479.1 L481.8,2483 L482.3,2486.8 L482.8,2490.6 L483.3,2494.5 L483.8,2498.3 L484.4,2502.2 L484.9,2506 L485.4,2509.8 L485.9,2513.7 L486.4,2517.5 L487,2521.4 L487.5,2525.2 L488,2529 L488.5,2532.9 L489.1,2536.7 L489.6,2540.5 L490.2,2544.3 L490.8,2548.2 L491.3,2552 L491.9,2555.8 L492.5,2559.6 L493.1,2563.4 L493.7,2567.3 L494.3,2571.1 L495,2574.9 L495.6,2578.7 L496.3,2582.5 L497,2586.3 L497.6,2590.1 L498.3,2593.9 L499,2597.7 L499.8,2601.5 L500.5,2605.2 L501.2,2609 L502,2612.8 L502.8,2616.6 L503.6,2620.4 L504.4,2624.2 L505.2,2627.9 L506.1,2631.7 L506.9,2635.5 L507.8,2639.3 L508.7,2643 L509.6,2646.8 L510.5,2650.6 L511.5,2654.4 L512.4,2658.1 L513.4,2661.9 L514.4,2665.7 L515.5,2669.4 L516.5,2673.2 L517.6,2676.9 L518.6,2680.7 L519.7,2684.5 L520.9,2688.2 L522,2692 L523.2,2695.7 L524.4,2699.5 L525.6,2703.2 L526.9,2707 L528.2,2710.7 L529.6,2714.3 L531,2718 L532.5,2721.5 L534.1,2725 L535.9,2728.4 L537.7,2731.8 L539.6,2735 L541.7,2738.2 L543.9,2741.2 L546.2,2744.1 L548.7,2746.9 L551.4,2749.5 L554.2,2752 L557.3,2754.4 L560.5,2756.6 L563.8,2758.5 L567.3,2760.4 L570.9,2762 L574.7,2763.4 L578.4,2764.6 L582.3,2765.6 L586.2,2766.3 L590.1,2766.9 L594,2767.1 L598,2767.2 L601.8,2766.9 L605.7,2766.4 L609.4,2765.6 L613.1,2764.8 L616.8,2764.1 L620.5,2763.7 L624.1,2763.8 L627.7,2764.5 L631.4,2765.6 L635,2767 L638.6,2768.7 L642.2,2770.6 L645.7,2772.4 L649.3,2774.3 L652.9,2776 L656.6,2777.6 L660.2,2778.9 L664,2779.8 L667.7,2780.5 L671.5,2780.8 L675.3,2780.8 L679.2,2780.5 L682.9,2779.9 L686.7,2779.2 L690.4,2778.1 L694.1,2776.9 L697.7,2775.5 L701.2,2774 L704.8,2772.4 L708.3,2770.8 L712,2769.3 L715.7,2767.9 L719.5,2766.7 L723.3,2765.5 L727.1,2764.4 L731,2763.3 L734.8,2762.1 L738.5,2760.8 L742.1,2759.4 L745.6,2757.8 L748.9,2756 L752,2754 L754.9,2751.6 L757.6,2749.1 L760.3,2746.4 L762.8,2743.5 L765.2,2740.5 L767.6,2737.5 L769.9,2734.3 L772.3,2731.2 L774.6,2728 L777.1,2724.9 L779.5,2721.8 L782,2718.8 L784.6,2715.8 L787.2,2712.9 L789.8,2709.9 L792.4,2707 L795.1,2704.1 L797.6,2701.2 L800.2,2698.3 L802.7,2695.4 L805.1,2692.4 L807.5,2689.4 L809.8,2686.3 L812,2683.2 L814,2679.9 L815.9,2676.6 L817.8,2673.3 L819.5,2669.8 L821.1,2666.3 L822.7,2662.8 L824.2,2659.2 L825.7,2655.6 L827.2,2652 L828.7,2648.4 L830.2,2644.8 L831.7,2641.2 L833.3,2637.7 L834.9,2634.1 L836.5,2630.6 L838.2,2627.1 L840,2623.6 L841.7,2620.2 L843.5,2616.7 L845.2,2613.3 L847,2609.8 L848.8,2606.4 L850.6,2603 L852.3,2599.5 L854.1,2596.1 L855.8,2592.6 L857.5,2589.2 L859.2,2585.7 L860.8,2582.2 L862.4,2578.7 L864,2575.1 L865.5,2571.6 L867,2568 L868.4,2564.4 L869.9,2560.8 L871.3,2557.2 L872.8,2553.6 L874.2,2550 L875.7,2546.5 L877.2,2542.9 L878.7,2539.3 L880.3,2535.8 L881.9,2532.3 L883.6,2528.8 L885.3,2525.3 L887.1,2521.8 L889,2518.4 L890.9,2515.1 L892.9,2511.7 L895,2508.4 L897,2505.1 L899.1,2501.8 L901.1,2498.4 L903.1,2495.1 L905.1,2491.7 L907,2488.4 L908.8,2484.9 L910.6,2481.5 L912.3,2478 L914,2474.5 L915.6,2471 L917.1,2467.5 L918.7,2464 L920.1,2460.4 L921.6,2456.8 L923,2453.2 L924.3,2449.6 L925.7,2446 L927,2442.3 L928.3,2438.7 L929.5,2435 L930.7,2431.3 L931.9,2427.6 L933.1,2423.9 L934.3,2420.2 L935.5,2416.5 L936.6,2412.8 L937.8,2409.1 L938.9,2405.4 L940.1,2401.7 L941.2,2397.9 L942.3,2394.2 L943.5,2390.5 L944.6,2386.8 L945.8,2383.1 L947,2379.3 L948.2,2375.6 L949.4,2371.9 L950.6,2368.2 L951.8,2364.5 L953.1,2360.9 L954.4,2357.2 L955.7,2353.5 L957.1,2349.9 L958.5,2346.3 L959.9,2342.6 L961.4,2339 L962.9,2335.5 L964.5,2331.9 L966.1,2328.3 L967.7,2324.8 L969.4,2321.3 L971.2,2317.8 L973,2314.4 L974.9,2310.9 L976.9,2307.6 L978.9,2304.3 L981,2301 L983.2,2297.8 L985.5,2294.7 L987.9,2291.7 L990.4,2288.8 L993,2286 L995.8,2283.3 L998.6,2280.7 L1001.5,2278.2 L1004.4,2275.7 L1007.4,2273.3 L1010.5,2270.9 L1013.5,2268.5 L1016.5,2266 L1019.4,2263.5 L1022.3,2260.9 L1025.1,2258.2 L1027.8,2255.4 L1030.4,2252.5 L1033,2249.5 L1035.5,2246.5 L1038,2243.4 L1040.5,2240.4 L1043,2237.5 L1045.6,2234.6 L1048.3,2231.8 L1051,2229.1 L1053.8,2226.4 L1056.7,2223.9 L1059.6,2221.4 L1062.6,2219 L1065.7,2216.7 L1068.8,2214.4 L1071.9,2212.2 L1075.1,2210.1 L1078.4,2208 L1081.6,2206 L1085,2204.1 L1088.3,2202.2 L1091.7,2200.3 L1095.2,2198.5 L1098.6,2196.8 L1102.1,2195 L1105.6,2193.4 L1109.2,2191.7 L1112.7,2190.1 L1116.3,2188.6 L1119.9,2187 L1123.5,2185.5 L1127.1,2184 L1130.8,2182.6 L1134.4,2181.1 L1138,2179.7 L1141.7,2178.3 L1145.3,2176.8 L1149,2175.5 L1152.6,2174.1 L1156.3,2172.7 L1159.9,2171.4 L1163.6,2170.1 L1167.2,2168.8 L1170.9,2167.6 L1174.6,2166.5 L1178.3,2165.3 L1182,2164.3 L1185.7,2163.3 L1189.4,2162.3 L1193.1,2161.5 L1196.9,2160.7 L1200.6,2159.9 L1204.4,2159.3 L1208.2,2158.7 L1212,2158.1 L1215.8,2157.6 L1219.6,2157.1 L1223.5,2156.7 L1227.3,2156.4 L1231.2,2156.1 L1235,2155.8 L1238.9,2155.5 L1242.7,2155.3 L1246.6,2155.2 L1250.5,2155 L1254.4,2154.9 L1258.3,2154.8 L1262.2,2154.7 L1266,2154.6 L1269.9,2154.5 L1273.8,2154.5 L1277.7,2154.4 L1281.6,2154.4 L1285.5,2154.3 L1289.4,2154.3 L1293.3,2154.3 L1297.2,2154.2 L1301.1,2154.2 L1305,2154.2 L1308.9,2154.1 L1312.7,2154.1 L1316.6,2154.1 L1320.5,2154 L1324.4,2154 L1328.3,2154 L1332.2,2154 L1336.1,2153.9 L1339.9,2153.9 L1343.8,2153.9 L1347.7,2153.9 L1351.6,2153.9 L1355.5,2153.8 L1359.3,2153.8 L1363.2,2153.8 L1367.1,2153.8 L1371,2153.8 L1374.8,2153.8 L1378.7,2153.8 L1382.6,2153.8 L1386.5,2153.8 L1390.4,2153.7 L1394.2,2153.7 L1398.1,2153.7 L1402,2153.7 L1405.9,2153.7 L1409.7,2153.7 L1413.6,2153.7 L1417.5,2153.7 L1421.3,2153.7 L1425.2,2153.8 L1429.1,2153.8 L1433,2153.8 L1436.8,2153.8 L1440.7,2153.8 L1444.6,2153.8 L1448.4,2153.8 L1452.3,2153.8 L1456.2,2153.8 L1460.1,2153.8 L1463.9,2153.9 L1467.8,2153.9 L1471.7,2153.9 L1475.5,2153.9 L1479.4,2153.9 L1483.3,2153.9 L1487.1,2154 L1491,2154 L1494.9,2154 L1498.8,2154 L1502.6,2154 L1506.5,2154.1 L1510.4,2154.1 L1514.2,2154.1 L1518.1,2154.1 L1522,2154.2 L1525.8,2154.2 L1529.7,2154.2 L1533.6,2154.2 L1537.5,2154.3 L1541.3,2154.3 L1545.2,2154.3 L1549.1,2154.4 L1552.9,2154.4 L1556.8,2154.4 L1560.7,2154.4 L1564.6,2154.5 L1568.4,2154.5 L1572.3,2154.5 L1576.2,2154.6 L1580,2154.6 L1583.9,2154.6 L1587.8,2154.7 L1591.7,2154.7 L1595.5,2154.7 L1599.4,2154.8 L1603.3,2154.8 L1607.2,2154.9 L1611,2154.9 L1614.9,2154.9 L1618.8,2155 L1622.7,2155 L1626.6,2155 L1630.4,2155.1 L1634.3,2155.1 L1638.2,2155.2 L1642.1,2155.2 L1646,2155.2 L1649.8,2155.3 L1653.7,2155.3 L1657.6,2155.3 L1661.5,2155.4 L1665.4,2155.4 L1669.3,2155.5 L1673.2,2155.5 L1677,2155.5"/>
<path stroke="#0000ff" d="M309.5,2114.2 L312.8,2115.5 L315.9,2117.3 L319.1,2119.7 L322.2,2122.4 L325.3,2125.2 L328.3,2128.1 L331.5,2130.9 L334.6,2133.4 L337.9,2135.5 L341.2,2137.1 L344.6,2138 L348.1,2138.1 L351.7,2137.5 L355.3,2136.3 L358.9,2134.6 L362.5,2132.6 L366,2130.2 L369.4,2127.7 L372.6,2125.4 L375.7,2124 L378.7,2124.1 L381.6,2125.8 L384.2,2128.6 L386.5,2131.9 L388.5,2135.4 L390.2,2139 L391.8,2142.9 L393.2,2146.8 L394.7,2150.7 L396.4,2154.6 L398.3,2158.1 L400.6,2161.1 L403.3,2163.4 L406.7,2164.8 L410.5,2165.5 L414.5,2165.5 L418.6,2165.5 L422.3,2166.2 L425.4,2167.9 L428.1,2170.4 L430.3,2173.6 L432.3,2176.9 L434,2180.4 L435.5,2183.9 L436.9,2187.5 L438.1,2191.2 L439.1,2194.9 L440.1,2198.7 L440.9,2202.5 L441.7,2206.3 L442.4,2210.1 L443.1,2213.9 L443.8,2217.8 L444.4,2221.6 L445.1,2225.5 L445.7,2229.3 L446.4,2233.2 L447,2237 L447.6,2240.8 L448.2,2244.7 L448.8,2248.5 L449.4,2252.4 L450,2256.2 L450.6,2260 L451.2,2263.9 L451.8,2267.7 L452.3,2271.5 L452.9,2275.4 L453.4,2279.2 L454,2283.1 L454.5,2286.9 L455,2290.7 L455.6,2294.6 L456.1,2298.4 L456.6,2302.2 L457.1,2306.1 L457.6,2309.9 L458.1,2313.7 L458.6,2317.6 L459.1,2321.4 L459.6,2325.2 L460.1,2329.1 L460.5,2332.9 L461,2336.7 L461.5,2340.6 L461.9,2344.4 L462.4,2348.3 L462.8,2352.1 L463.3,2355.9 L463.7,2359.8 L464.2,2363.6 L464.6,2367.5 L465.1,2371.3 L465.5,2375.1 L465.9,2379 L466.4,2382.8 L466.8,2386.7 L467.2,2390.5 L467.6,2394.4 L468.1,2398.2 L468.5,2402 L468.9,2405.9 L469.3,2409.7 L469.7,2413.6 L470.1,2417.4 L470.5,2421.3 L471,2425.2 L471.4,2429 L471.8,2432.9 L472.2,2436.7 L472.6,2440.6 L473,2444.4 L473.4,2448.3 L473.8,2452.1 L474.2,2456 L474.6,2459.9 L475,2463.7 L475.4,2467.6 L475.8,2471.5 L476.2,2475.3 L476.6,2479.2 L477,2483 L477.4,2486.9 L477.8,2490.8 L478.2,2494.6 L478.6,2498.5 L479,2502.3 L479.4,2506.2 L479.8,2510.1 L480.2,2513.9 L480.6,2517.8 L481,2521.7 L481.5,2525.5 L481.9,2529.4 L482.3,2533.2 L482.7,2537.1 L483.1,2541 L483.5,2544.8 L483.9,2548.7 L484.3,2552.5 L484.8,2556.4 L485.2,2560.2 L485.6,2564.1 L486,2567.9 L486.4,2571.8 L486.9,2575.6 L487.3,2579.5 L487.7,2583.3 L488.2,2587.2 L488.6,2591 L489,2594.9 L489.5,2598.7 L489.9,2602.6 L490.3,2606.4 L490.8,2610.2 L491.2,2614.1 L491.7,2617.9 L492.1,2621.8 L492.6,2625.6 L493.1,2629.4 L493.5,2633.2 L494,2637.1 L494.5,2640.9 L494.9,2644.7 L495.4,2648.5 L495.9,2652.4 L496.4,2656.2 L496.9,2660 L497.4,2663.8 L497.9,2667.6 L498.4,2671.5 L498.9,2675.3 L499.4,2679.1 L499.9,2682.9 L500.5,2686.7 L501,2690.6 L501.6,2694.4 L502.1,2698.2 L502.7,2702 L503.2,2705.9 L503.8,2709.7 L504.4,2713.5 L505,2717.4 L505.6,2721.2 L506.2,2725.1 L506.8,2728.9 L507.5,2732.8 L508.1,2736.6 L508.8,2740.5 L509.4,2744.3 L510.1,2748.2 L510.8,2752.1 L511.5,2756 L512.2,2759.8 L512.9,2763.7 L513.6,2767.6 L514.4,2771.5 L515.1,2775.4 L515.9,2779.3 L516.6,2783.2 L517.4,2787.2 L518.3,2791.1 L519.2,2794.8 L520.5,2798.2 L522.2,2801.2 L524.5,2803.4 L527.6,2804.8 L531.3,2805.2 L535,2804.2 L538.2,2802 L541.1,2799 L543.7,2795.8 L546.2,2792.6 L548.8,2789.8 L551.6,2787.3 L554.8,2785.4 L558.3,2783.9 L562,2782.6 L565.7,2781.3 L569.4,2780 L573.1,2778.7 L576.8,2777.3 L580.5,2776 L584.1,2774.7 L587.8,2773.5 L591.5,2772.3 L595.2,2771.2 L599,2770.3 L602.7,2769.5 L606.5,2768.8 L610.3,2768.2 L614.1,2767.7 L617.9,2767.2 L621.8,2766.9 L625.6,2766.6 L629.5,2766.3 L633.4,2766.2 L637.2,2766 L641.1,2765.9 L645,2765.9 L648.9,2765.8 L652.8,2765.8 L656.7,2765.8 L660.6,2765.8 L664.5,2765.8 L668.4,2765.7 L672.3,2765.7 L676.2,2765.6 L680.1,2765.4 L684,2765.3 L687.8,2765 L691.7,2764.7 L695.5,2764.4 L699.4,2763.9 L703.2,2763.4 L707,2762.8 L710.8,2762 L714.6,2761.2 L718.4,2760.3 L722.1,2759.2 L725.7,2757.9 L729.2,2756.3 L732.5,2754.4 L735.7,2752.2 L738.7,2749.8 L741.7,2747.3 L744.8,2744.9 L748,2742.6 L751.3,2740.5 L754.7,2738.5 L758.1,2736.6 L761.6,2734.6 L764.9,2732.7 L768.2,2730.7 L771.4,2728.5 L774.4,2726.2 L777.2,2723.6 L779.8,2720.9 L782.3,2718 L784.6,2714.9 L786.9,2711.7 L789.1,2708.5 L791.2,2705.2 L793.3,2701.9 L795.4,2698.6 L797.6,2695.3 L799.9,2692.1 L802.2,2689 L804.6,2685.9 L806.9,2682.8 L809.2,2679.8 L811.4,2676.6 L813.5,2673.4 L815.5,2670.2 L817.3,2666.8 L818.9,2663.3 L820.4,2659.7 L821.8,2656.1 L823.1,2652.5 L824.5,2648.8 L825.8,2645.1 L827.2,2641.4 L828.6,2637.8 L830.1,2634.2 L831.7,2630.7 L833.4,2627.2 L835.1,2623.7 L836.8,2620.3 L838.6,2616.9 L840.4,2613.4 L842.2,2610 L844.1,2606.6 L845.9,2603.2 L847.8,2599.8 L849.6,2596.4 L851.4,2593 L853.2,2589.5 L854.9,2586.1 L856.7,2582.6 L858.4,2579.2 L860.2,2575.7 L861.9,2572.2 L863.6,2568.7 L865.3,2565.2 L867,2561.7 L868.7,2558.2 L870.3,2554.7 L872,2551.2 L873.6,2547.7 L875.3,2544.2 L876.9,2540.6 L878.5,2537.1 L880.1,2533.6 L881.7,2530 L883.4,2526.5 L885,2523 L886.5,2519.4 L888.1,2515.9 L889.7,2512.4 L891.3,2508.8 L892.9,2505.3 L894.5,2501.8 L896,2498.2 L897.6,2494.7 L899.2,2491.2 L900.7,2487.6 L902.3,2484.1 L903.8,2480.6 L905.4,2477 L906.9,2473.5 L908.5,2469.9 L910,2466.4 L911.5,2462.8 L913.1,2459.3 L914.6,2455.8 L916.1,2452.2 L917.6,2448.7 L919.2,2445.1 L920.7,2441.6 L922.2,2438 L923.7,2434.5 L925.2,2430.9 L926.7,2427.3 L928.2,2423.8 L929.7,2420.2 L931.2,2416.6 L932.7,2413.1 L934.1,2409.5 L935.6,2405.9 L937.1,2402.4 L938.6,2398.8 L940,2395.2 L941.5,2391.6 L943,2388 L944.4,2384.4 L945.9,2380.8 L947.3,2377.2 L948.8,2373.6 L950.2,2370 L951.7,2366.4 L953.1,2362.8 L954.5,2359.2 L956,2355.6 L957.4,2351.9 L958.8,2348.3 L960.3,2344.7 L961.7,2341 L963.1,2337.4 L964.5,2333.7 L965.9,2330.1 L967.4,2326.4 L968.8,2322.8 L970.2,2319.1 L971.6,2315.4 L973,2311.8 L974.5,2308.1 L976,2304.5 L977.6,2301 L979.3,2297.6 L981.1,2294.2 L983.1,2291 L985.3,2287.9 L987.7,2285 L990.2,2282.3 L993.1,2279.7 L996.2,2277.3 L999.4,2275.1 L1002.9,2273.1 L1006.4,2271 L1009.9,2269 L1013.4,2267 L1016.8,2264.8 L1020.1,2262.6 L1023.1,2260.1 L1025.9,2257.4 L1028.3,2254.5 L1030.6,2251.4 L1032.7,2248.1 L1034.6,2244.7 L1036.5,2241.3 L1038.5,2238 L1040.5,2234.7 L1042.7,2231.5 L1045.1,2228.6 L1047.7,2225.8 L1050.5,2223.2 L1053.5,2220.7 L1056.6,2218.3 L1059.8,2216.1 L1063,2213.9 L1066.3,2211.7 L1069.6,2209.6 L1072.9,2207.4 L1076.2,2205.3 L1079.5,2203.2 L1082.8,2201.2 L1086.1,2199.1 L1089.5,2197.1 L1092.8,2195.1 L1096.2,2193.1 L1099.5,2191.2 L1102.9,2189.3 L1106.3,2187.4 L1109.7,2185.6 L1113.1,2183.8 L1116.6,2182.1 L1120.1,2180.4 L1123.6,2178.8 L1127.1,2177.2 L1130.6,2175.6 L1134.2,2174.1 L1137.8,2172.7 L1141.4,2171.3 L1145,2169.9 L1148.7,2168.6 L1152.3,2167.3 L1156,2166.1 L1159.7,2164.9 L1163.4,2163.7 L1167.1,2162.6 L1170.8,2161.6 L1174.5,2160.5 L1178.3,2159.6 L1182,2158.6 L1185.8,2157.7 L1189.6,2156.8 L1193.4,2156 L1197.2,2155.2 L1201,2154.4 L1204.8,2153.7 L1208.6,2153 L1212.4,2152.4 L1216.2,2151.8 L1220.1,2151.2 L1223.9,2150.6 L1227.7,2150.1 L1231.6,2149.6 L1235.4,2149.2 L1239.2,2148.7 L1243.1,2148.3 L1246.9,2148 L1250.8,2147.6 L1254.6,2147.3 L1258.5,2147 L1262.3,2146.7 L1266.2,2146.5 L1270.1,2146.3 L1273.9,2146.1 L1277.8,2145.9 L1281.6,2145.8 L1285.5,2145.6 L1289.4,2145.5 L1293.3,2145.4 L1297.1,2145.4 L1301,2145.3 L1304.9,2145.3 L1308.8,2145.2 L1312.6,2145.2 L1316.5,2145.2 L1320.4,2145.2 L1324.3,2145.3 L1328.2,2145.3 L1332,2145.4 L1335.9,2145.4 L1339.8,2145.5 L1343.7,2145.6 L1347.6,2145.7 L1351.5,2145.8 L1355.4,2145.9 L1359.2,2146 L1363.1,2146.1 L1367,2146.2 L1370.9,2146.3 L1374.8,2146.4 L1378.7,2146.5 L1382.6,2146.7 L1386.4,2146.8 L1390.3,2146.9 L1394.2,2147 L1398.1,2147.1 L1402,2147.2 L1405.9,2147.3 L1409.8,2147.4 L1413.6,2147.5 L1417.5,2147.6 L1421.4,2147.7 L1425.3,2147.8 L1429.1,2147.9 L1433,2148 L1436.9,2148 L1440.8,2148.1 L1444.7,2148.1 L1448.5,2148.2 L1452.4,2148.2 L1456.3,2148.3 L1460.1,2148.3 L1464,2148.4 L1467.9,2148.4 L1471.8,2148.5 L1475.6,2148.5 L1479.5,2148.5 L1483.4,2148.5 L1487.2,2148.6 L1491.1,2148.6 L1495,2148.6 L1498.9,2148.6 L1502.7,2148.7 L1506.6,2148.7 L1510.5,2148.7 L1514.3,2148.7 L1518.2,2148.8 L1522.1,2148.8 L1525.9,2148.8 L1529.8,2148.8 L1533.7,2148.8 L1537.5,2148.9 L1541.4,2148.9 L1545.3,2148.9 L1549.1,2148.9 L1553,2149 L1556.9,2149 L1560.7,2149 L1564.6,2149.1 L1568.5,2149.1 L1572.3,2149.1 L1576.2,2149.2 L1580.1,2149.2 L1583.9,2149.3 L1587.8,2149.3 L1591.7,2149.4 L1595.6,2149.5 L1599.4,2149.5 L1603.3,2149.6 L1607.2,2149.7 L1611,2149.7 L1614.9,2149.8 L1618.8,2149.9 L1622.7,2150 L1626.5,2150.1 L1630.4,2150.2 L1634.3,2150.3 L1638.2,2150.4 L1642.1,2150.6 L1645.9,2150.7 L1649.8,2150.8 L1653.7,2151 L1657.6,2151.1 L1661.5,2151.3 L1665.3,2151.5 L1669.2,2151.6 L1673.1,2151.8 L1677,2152"/>
<path stroke="#ff00ff" d="M309.5,2208.3 L313.5,2209.1 L317.2,2209.1 L320.7,2208.2 L324,2206.7 L327,2204.6 L329.9,2202.1 L332.6,2199.2 L335.1,2196 L337.5,2192.7 L339.7,2189.3 L341.9,2186 L344,2182.6 L346,2179.3 L347.9,2176 L349.7,2172.6 L351.5,2169.3 L353.3,2165.9 L355.1,2162.6 L356.8,2159.2 L358.5,2155.8 L360.3,2152.3 L362,2148.8 L363.9,2145.4 L365.8,2142 L368,2138.8 L370.3,2135.7 L372.9,2132.8 L375.7,2130.2 L378.9,2127.9 L382.4,2125.9 L386.2,2124.3 L390.1,2123.2 L394,2122.7 L397.8,2122.8 L401.4,2123.6 L404.7,2125.1 L407.7,2127.2 L410.5,2129.7 L413,2132.7 L415.3,2135.9 L417.3,2139.2 L419.2,2142.7 L420.8,2146.2 L422.2,2149.8 L423.5,2153.5 L424.7,2157.2 L425.7,2160.9 L426.7,2164.7 L427.6,2168.5 L428.5,2172.3 L429.3,2176.1 L430.2,2179.9 L431,2183.6 L431.7,2187.5 L432.5,2191.3 L433.2,2195.1 L433.9,2198.9 L434.6,2202.7 L435.3,2206.5 L435.9,2210.3 L436.5,2214.2 L437.1,2218 L437.7,2221.8 L438.3,2225.6 L438.8,2229.5 L439.4,2233.3 L439.9,2237.1 L440.4,2241 L440.9,2244.8 L441.4,2248.7 L441.9,2252.5 L442.3,2256.4 L442.8,2260.2 L443.2,2264 L443.7,2267.9 L444.1,2271.7 L444.5,2275.6 L444.9,2279.4 L445.3,2283.3 L445.7,2287.2 L446.1,2291 L446.5,2294.9 L446.9,2298.7 L447.3,2302.6 L447.7,2306.4 L448.1,2310.3 L448.5,2314.1 L448.9,2318 L449.3,2321.8 L449.7,2325.7 L450.1,2329.5 L450.5,2333.4 L450.9,2337.2 L451.3,2341.1 L451.8,2344.9 L452.2,2348.8 L452.6,2352.6 L453.1,2356.5 L453.6,2360.3 L454,2364.1 L454.5,2368 L455,2371.8 L455.5,2375.7 L456,2379.5 L456.6,2383.3 L457.1,2387.2 L457.6,2391 L458.2,2394.8 L458.7,2398.7 L459.3,2402.5 L459.8,2406.3 L460.4,2410.1 L460.9,2414 L461.5,2417.8 L462,2421.6 L462.6,2425.5 L463.1,2429.3 L463.7,2433.1 L464.2,2436.9 L464.8,2440.8 L465.3,2444.6 L465.8,2448.4 L466.4,2452.3 L466.9,2456.1 L467.4,2460 L467.9,2463.8 L468.3,2467.6 L468.8,2471.5 L469.3,2475.3 L469.7,2479.2 L470.2,2483 L470.6,2486.9 L471,2490.7 L471.4,2494.6 L471.7,2498.5 L472.1,2502.3 L472.4,2506.2 L472.7,2510.1 L473,2513.9 L473.3,2517.8 L473.6,2521.7 L473.9,2525.6 L474.1,2529.4 L474.4,2533.3 L474.6,2537.2 L474.9,2541.1 L475.1,2545 L475.3,2548.8 L475.5,2552.7 L475.8,2556.6 L476,2560.5 L476.2,2564.3 L476.5,2568.2 L476.7,2572.1 L476.9,2576 L477.2,2579.8 L477.5,2583.7 L477.7,2587.6 L478,2591.4 L478.3,2595.3 L478.6,2599.1 L478.9,2603 L479.3,2606.8 L479.6,2610.7 L480,2614.5 L480.4,2618.3 L480.8,2622.2 L481.2,2626 L481.7,2629.8 L482.2,2633.6 L482.7,2637.4 L483.3,2641.2 L483.8,2645 L484.4,2648.8 L485,2652.6 L485.5,2656.4 L486.1,2660.1 L486.8,2663.9 L487.4,2667.7 L488,2671.5 L488.6,2675.4 L489.2,2679.2 L489.8,2683 L490.4,2686.9 L490.9,2690.7 L491.5,2694.6 L492,2698.4 L492.5,2702.3 L493,2706.2 L493.5,2710.2 L493.9,2714.1 L494.3,2718.1 L494.8,2722 L495.2,2726 L495.7,2729.9 L496.2,2733.8 L496.9,2737.7 L497.6,2741.6 L498.4,2745.4 L499.4,2749.1 L500.5,2752.8 L501.8,2756.4 L503.3,2760 L505,2763.4 L506.9,2766.8 L509,2770 L511.4,2772.9 L514,2775.3 L516.8,2777.1 L519.8,2778.1 L523,2778.2 L526.3,2777.3 L529.8,2775.7 L533.3,2773.5 L537,2771.1 L540.7,2768.6 L544.4,2766.3 L548.2,2764.3 L551.9,2762.9 L555.6,2761.9 L559.3,2761.4 L563,2761.4 L566.6,2761.7 L570.2,2762.5 L573.8,2763.7 L577.3,2765.3 L580.8,2767.2 L584.2,2769.2 L587.7,2771.2 L591.2,2773.1 L594.7,2774.6 L598.3,2775.7 L601.9,2776.2 L605.6,2776.2 L609.4,2775.9 L613.2,2775.3 L617,2774.8 L620.9,2774.3 L624.8,2773.9 L628.7,2773.7 L632.6,2773.5 L636.5,2773.3 L640.4,2773.2 L644.3,2773.1 L648.2,2773.1 L652.1,2773 L656,2772.9 L659.9,2772.8 L663.7,2772.7 L667.6,2772.5 L671.4,2772.2 L675.2,2771.9 L678.9,2771.4 L682.7,2770.9 L686.4,2770.3 L690.1,2769.7 L693.9,2769 L697.7,2768.2 L701.5,2767.5 L705.4,2766.8 L709.3,2766 L713.2,2765.1 L717,2764.2 L720.8,2763.1 L724.6,2761.9 L728.2,2760.6 L731.8,2759.2 L735.2,2757.5 L738.4,2755.6 L741.5,2753.5 L744.5,2751.3 L747.3,2748.9 L750,2746.3 L752.6,2743.5 L755.1,2740.6 L757.5,2737.7 L759.9,2734.6 L762.1,2731.4 L764.3,2728.1 L766.5,2724.8 L768.6,2721.4 L770.7,2718 L772.7,2714.6 L774.8,2711.2 L776.8,2707.8 L778.9,2704.4 L781,2701 L783.1,2697.7 L785.2,2694.5 L787.4,2691.3 L789.7,2688.2 L791.9,2685.1 L794.2,2682 L796.5,2679 L798.8,2675.9 L801,2672.9 L803.2,2669.8 L805.4,2666.7 L807.6,2663.5 L809.7,2660.3 L811.8,2657.1 L813.8,2653.8 L815.8,2650.5 L817.8,2647.2 L819.8,2643.9 L821.7,2640.5 L823.6,2637.1 L825.5,2633.7 L827.4,2630.3 L829.3,2626.9 L831.1,2623.4 L832.9,2620 L834.7,2616.5 L836.6,2613.1 L838.4,2609.6 L840.2,2606.1 L841.9,2602.7 L843.7,2599.2 L845.5,2595.7 L847.3,2592.3 L849.1,2588.8 L850.9,2585.4 L852.6,2581.9 L854.4,2578.5 L856.2,2575.1 L858,2571.6 L859.7,2568.2 L861.5,2564.8 L863.3,2561.3 L865,2557.9 L866.8,2554.5 L868.5,2551 L870.3,2547.6 L872,2544.1 L873.7,2540.7 L875.5,2537.2 L877.2,2533.8 L878.9,2530.3 L880.6,2526.9 L882.3,2523.4 L884,2519.9 L885.7,2516.4 L887.4,2513 L889.1,2509.5 L890.8,2506 L892.5,2502.5 L894.1,2498.9 L895.8,2495.4 L897.4,2491.9 L899,2488.4 L900.7,2484.8 L902.3,2481.3 L903.9,2477.8 L905.5,2474.2 L907,2470.6 L908.6,2467.1 L910.2,2463.5 L911.7,2460 L913.2,2456.4 L914.7,2452.8 L916.2,2449.2 L917.7,2445.7 L919.1,2442.1 L920.6,2438.5 L922,2434.9 L923.4,2431.3 L924.8,2427.7 L926.2,2424.1 L927.5,2420.5 L928.9,2416.9 L930.2,2413.3 L931.5,2409.7 L932.8,2406.1 L934.1,2402.5 L935.5,2398.9 L936.8,2395.2 L938.1,2391.6 L939.4,2388 L940.7,2384.4 L942,2380.8 L943.4,2377.1 L944.7,2373.5 L946.1,2369.9 L947.5,2366.3 L948.9,2362.6 L950.3,2359 L951.8,2355.4 L953.3,2351.7 L954.8,2348.1 L956.4,2344.5 L958,2340.9 L959.6,2337.4 L961.3,2333.8 L963,2330.3 L964.7,2326.8 L966.6,2323.3 L968.4,2319.9 L970.4,2316.5 L972.3,2313.2 L974.4,2309.9 L976.5,2306.6 L978.6,2303.4 L980.9,2300.3 L983.2,2297.2 L985.6,2294.2 L988,2291.3 L990.6,2288.4 L993.2,2285.6 L995.9,2282.9 L998.7,2280.3 L1001.5,2277.7 L1004.4,2275.1 L1007.3,2272.6 L1010.2,2270.1 L1013.1,2267.6 L1016.1,2265 L1018.9,2262.4 L1021.8,2259.8 L1024.5,2257 L1027.2,2254.2 L1029.9,2251.3 L1032.5,2248.4 L1035.1,2245.5 L1037.7,2242.6 L1040.3,2239.7 L1043,2236.8 L1045.7,2234.1 L1048.5,2231.4 L1051.3,2228.7 L1054.2,2226.2 L1057.1,2223.7 L1060.1,2221.2 L1063.1,2218.9 L1066.2,2216.6 L1069.3,2214.4 L1072.5,2212.2 L1075.7,2210.1 L1078.9,2208 L1082.2,2206 L1085.5,2204 L1088.9,2202.1 L1092.3,2200.2 L1095.7,2198.4 L1099.1,2196.6 L1102.6,2194.9 L1106.1,2193.2 L1109.6,2191.5 L1113.1,2189.9 L1116.7,2188.3 L1120.2,2186.7 L1123.8,2185.1 L1127.4,2183.6 L1131,2182.1 L1134.6,2180.6 L1138.2,2179.2 L1141.9,2177.8 L1145.5,2176.3 L1149.1,2175 L1152.8,2173.6 L1156.4,2172.2 L1160.1,2170.9 L1163.8,2169.6 L1167.4,2168.4 L1171.1,2167.2 L1174.8,2166.1 L1178.5,2165 L1182.2,2164 L1185.9,2163 L1189.7,2162.1 L1193.4,2161.2 L1197.2,2160.5 L1200.9,2159.8 L1204.7,2159.1 L1208.5,2158.5 L1212.3,2158 L1216.1,2157.5 L1220,2157.1 L1223.8,2156.7 L1227.6,2156.3 L1231.5,2156 L1235.3,2155.8 L1239.2,2155.5 L1243.1,2155.3 L1246.9,2155.2 L1250.8,2155 L1254.7,2154.9 L1258.6,2154.8 L1262.5,2154.7 L1266.4,2154.7 L1270.2,2154.6 L1274.1,2154.6 L1278,2154.5 L1281.9,2154.5 L1285.8,2154.5 L1289.7,2154.4 L1293.6,2154.4 L1297.5,2154.4 L1301.3,2154.3 L1305.2,2154.3 L1309.1,2154.3 L1313,2154.2 L1316.9,2154.2 L1320.8,2154.2 L1324.6,2154.2 L1328.5,2154.2 L1332.4,2154.1 L1336.3,2154.1 L1340.2,2154.1 L1344,2154.1 L1347.9,2154.1 L1351.8,2154.1 L1355.7,2154.1 L1359.6,2154 L1363.4,2154 L1367.3,2154 L1371.2,2154 L1375.1,2154 L1378.9,2154 L1382.8,2154 L1386.7,2154 L1390.5,2154 L1394.4,2154 L1398.3,2154 L1402.2,2154 L1406,2154 L1409.9,2154 L1413.8,2154 L1417.6,2154.1 L1421.5,2154.1 L1425.4,2154.1 L1429.3,2154.1 L1433.1,2154.1 L1437,2154.1 L1440.9,2154.1 L1444.7,2154.1 L1448.6,2154.2 L1452.5,2154.2 L1456.3,2154.2 L1460.2,2154.2 L1464.1,2154.2 L1467.9,2154.2 L1471.8,2154.3 L1475.7,2154.3 L1479.5,2154.3 L1483.4,2154.3 L1487.3,2154.4 L1491.1,2154.4 L1495,2154.4 L1498.9,2154.4 L1502.7,2154.5 L1506.6,2154.5 L1510.5,2154.5 L1514.4,2154.5 L1518.2,2154.6 L1522.1,2154.6 L1526,2154.6 L1529.8,2154.7 L1533.7,2154.7 L1537.6,2154.7 L1541.4,2154.8 L1545.3,2154.8 L1549.2,2154.8 L1553,2154.9 L1556.9,2154.9 L1560.8,2155 L1564.6,2155 L1568.5,2155 L1572.4,2155.1 L1576.3,2155.1 L1580.1,2155.1 L1584,2155.2 L1587.9,2155.2 L1591.7,2155.3 L1595.6,2155.3 L1599.5,2155.3 L1603.4,2155.4 L1607.2,2155.4 L1611.1,2155.5 L1615,2155.5 L1618.9,2155.6 L1622.7,2155.6 L1626.6,2155.6 L1630.5,2155.7 L1634.4,2155.7 L1638.2,2155.8 L1642.1,2155.8 L1646,2155.9 L1649.9,2155.9 L1653.7,2156 L1657.6,2156 L1661.5,2156 L1665.4,2156.1 L1669.3,2156.1 L1673.2,2156.2 L1677,2156.2"/>
<path stroke="#008000" d="M309.6,2158 L310.8,2161.1 L312.5,2164.5 L314.5,2168 L316.8,2171.5 L319.5,2174.8 L322.3,2177.8 L325.4,2180.3 L328.6,2182.4 L331.9,2183.8 L335.3,2184.4 L338.7,2184.2 L342,2183.1 L345.3,2181.3 L348.6,2179 L351.7,2176.2 L354.8,2173.2 L357.7,2170.1 L360.4,2166.9 L362.9,2163.9 L365.5,2161.1 L368.3,2158.6 L371.5,2156.5 L375.2,2155 L379.2,2154 L383.1,2153.9 L386.5,2154.5 L389.5,2156 L392.1,2158.2 L394.3,2160.9 L396.2,2164.1 L398,2167.6 L399.5,2171.3 L400.9,2175.1 L402.3,2178.9 L403.6,2182.7 L404.9,2186.5 L406.1,2190.3 L407.2,2194.1 L408.3,2197.9 L409.4,2201.7 L410.4,2205.4 L411.3,2209.2 L412.3,2213 L413.1,2216.8 L414,2220.6 L414.8,2224.4 L415.6,2228.1 L416.4,2231.9 L417.1,2235.7 L417.9,2239.5 L418.6,2243.3 L419.3,2247 L419.9,2250.8 L420.6,2254.6 L421.3,2258.4 L421.9,2262.2 L422.6,2266 L423.3,2269.7 L423.9,2273.5 L424.6,2277.3 L425.3,2281.1 L425.9,2284.9 L426.6,2288.7 L427.3,2292.5 L428,2296.3 L428.7,2300.1 L429.4,2303.9 L430.1,2307.7 L430.8,2311.4 L431.5,2315.2 L432.2,2319 L432.9,2322.8 L433.6,2326.6 L434.3,2330.4 L435,2334.2 L435.7,2338 L436.4,2341.9 L437.2,2345.7 L437.9,2349.5 L438.6,2353.3 L439.3,2357.1 L440.1,2360.9 L440.8,2364.7 L441.5,2368.5 L442.2,2372.3 L442.9,2376.1 L443.7,2379.9 L444.4,2383.7 L445.1,2387.5 L445.8,2391.3 L446.5,2395.2 L447.3,2399 L448,2402.8 L448.7,2406.6 L449.4,2410.4 L450.1,2414.2 L450.8,2418 L451.5,2421.8 L452.2,2425.6 L452.9,2429.5 L453.6,2433.3 L454.3,2437.1 L455,2440.9 L455.7,2444.7 L456.4,2448.5 L457,2452.3 L457.7,2456.1 L458.4,2460 L459.1,2463.8 L459.7,2467.6 L460.4,2471.4 L461,2475.2 L461.7,2479 L462.3,2482.8 L462.9,2486.6 L463.6,2490.5 L464.2,2494.3 L464.8,2498.1 L465.4,2501.9 L466.1,2505.7 L466.7,2509.5 L467.3,2513.3 L468,2517.1 L468.6,2520.9 L469.3,2524.7 L469.9,2528.5 L470.6,2532.3 L471.3,2536.1 L471.9,2539.9 L472.6,2543.7 L473.4,2547.5 L474.1,2551.2 L474.8,2555 L475.6,2558.8 L476.4,2562.6 L477.2,2566.4 L478,2570.1 L478.8,2573.9 L479.6,2577.7 L480.4,2581.5 L481.2,2585.2 L482,2589 L482.9,2592.8 L483.7,2596.6 L484.5,2600.4 L485.3,2604.2 L486.1,2608 L487,2611.8 L487.8,2615.5 L488.6,2619.3 L489.4,2623.1 L490.3,2626.9 L491.1,2630.7 L491.9,2634.5 L492.8,2638.3 L493.6,2642.1 L494.4,2645.8 L495.2,2649.6 L496.1,2653.4 L496.9,2657.1 L497.7,2660.9 L498.6,2664.6 L499.4,2668.4 L500.2,2672.1 L501,2675.9 L501.9,2679.6 L502.7,2683.3 L503.6,2687 L504.5,2690.8 L505.4,2694.5 L506.4,2698.2 L507.4,2701.9 L508.5,2705.7 L509.6,2709.4 L510.8,2713.1 L512,2716.8 L513.3,2720.6 L514.7,2724.3 L516.2,2728.1 L517.8,2731.8 L519.4,2735.6 L521.2,2739.3 L523.2,2742.6 L525.5,2745.3 L528.1,2746.9 L531.2,2747.3 L534.6,2746.4 L538.1,2744.5 L541.1,2742.1 L543.9,2739.4 L546.6,2736.4 L549.3,2733.3 L552.2,2730.2 L555.3,2727.2 L558.5,2724.6 L561.8,2722.4 L565.2,2720.7 L568.7,2719.8 L572.1,2719.8 L575.6,2720.6 L579.1,2721.9 L582.5,2723.8 L585.9,2725.9 L589.2,2728.1 L592.4,2730.5 L595.5,2732.9 L598.6,2735.3 L601.7,2737.7 L604.8,2740 L607.9,2742.3 L611,2744.5 L614.2,2746.5 L617.4,2748.4 L620.7,2750.1 L624.2,2751.6 L627.7,2752.9 L631.3,2753.9 L635,2754.8 L638.8,2755.4 L642.7,2755.9 L646.5,2756.2 L650.5,2756.3 L654.4,2756.2 L658.4,2756 L662.4,2755.6 L666.4,2755.1 L670.3,2754.5 L674.2,2753.7 L678.1,2752.9 L682,2751.9 L685.7,2750.8 L689.4,2749.7 L693.1,2748.4 L696.7,2747.1 L700.2,2745.7 L703.7,2744.2 L707.1,2742.7 L710.6,2741.1 L714,2739.4 L717.4,2737.7 L720.7,2735.9 L724.1,2734 L727.4,2732.2 L730.7,2730.2 L734.1,2728.2 L737.4,2726.2 L740.6,2724.1 L743.9,2722 L747.1,2719.8 L750.2,2717.5 L753.4,2715.2 L756.5,2712.9 L759.6,2710.4 L762.6,2708 L765.6,2705.5 L768.5,2702.9 L771.4,2700.3 L774.2,2697.6 L776.9,2694.9 L779.6,2692.1 L782.3,2689.3 L784.9,2686.4 L787.4,2683.5 L789.8,2680.5 L792.2,2677.5 L794.5,2674.4 L796.7,2671.2 L798.9,2668.1 L801,2664.9 L803.1,2661.6 L805.1,2658.3 L807.1,2655 L809,2651.6 L810.8,2648.2 L812.6,2644.8 L814.4,2641.4 L816.1,2637.9 L817.8,2634.4 L819.4,2630.9 L821,2627.4 L822.6,2623.8 L824.3,2620.3 L825.9,2616.8 L827.5,2613.3 L829.2,2609.8 L831,2606.4 L832.8,2602.9 L834.7,2599.6 L836.6,2596.2 L838.6,2592.9 L840.7,2589.6 L842.7,2586.3 L844.8,2583.1 L846.8,2579.8 L848.8,2576.4 L850.7,2573.1 L852.6,2569.7 L854.4,2566.3 L856.2,2562.9 L858,2559.5 L859.7,2556 L861.4,2552.6 L863.1,2549.1 L864.8,2545.6 L866.4,2542.1 L868.1,2538.6 L869.7,2535.1 L871.3,2531.6 L872.9,2528 L874.5,2524.5 L876.1,2521 L877.7,2517.5 L879.3,2514 L881,2510.4 L882.6,2506.9 L884.2,2503.4 L885.8,2499.9 L887.4,2496.4 L889.1,2492.9 L890.7,2489.4 L892.3,2485.8 L893.9,2482.3 L895.6,2478.8 L897.2,2475.3 L898.8,2471.8 L900.4,2468.3 L902,2464.7 L903.6,2461.2 L905.2,2457.7 L906.7,2454.2 L908.3,2450.6 L909.9,2447.1 L911.4,2443.5 L913,2440 L914.5,2436.4 L916,2432.9 L917.5,2429.3 L919,2425.8 L920.5,2422.2 L921.9,2418.6 L923.4,2415 L924.8,2411.4 L926.2,2407.8 L927.6,2404.2 L929,2400.6 L930.4,2397 L931.7,2393.4 L933.1,2389.8 L934.5,2386.2 L935.9,2382.6 L937.2,2379 L938.6,2375.4 L940,2371.8 L941.4,2368.2 L942.9,2364.6 L944.3,2361 L945.8,2357.4 L947.3,2353.9 L948.8,2350.3 L950.3,2346.8 L951.9,2343.3 L953.5,2339.8 L955.1,2336.3 L956.8,2332.8 L958.6,2329.4 L960.3,2325.9 L962.2,2322.5 L964,2319.1 L966,2315.8 L968,2312.4 L970,2309.1 L972.1,2305.8 L974.3,2302.6 L976.5,2299.3 L978.8,2296.2 L981.1,2293 L983.5,2290 L985.9,2286.9 L988.5,2284 L991,2281.1 L993.7,2278.3 L996.3,2275.5 L999.1,2272.8 L1001.9,2270.2 L1004.7,2267.6 L1007.5,2265 L1010.3,2262.4 L1013,2259.7 L1015.8,2257 L1018.5,2254.3 L1021.2,2251.5 L1023.8,2248.6 L1026.5,2245.8 L1029.1,2242.9 L1031.8,2240.1 L1034.5,2237.2 L1037.2,2234.4 L1039.9,2231.7 L1042.7,2228.9 L1045.5,2226.3 L1048.3,2223.7 L1051.3,2221.1 L1054.2,2218.7 L1057.2,2216.3 L1060.3,2213.9 L1063.4,2211.6 L1066.5,2209.4 L1069.7,2207.2 L1072.9,2205.1 L1076.1,2203 L1079.4,2201 L1082.7,2199 L1086.1,2197.1 L1089.4,2195.2 L1092.8,2193.3 L1096.3,2191.5 L1099.7,2189.8 L1103.2,2188 L1106.7,2186.4 L1110.2,2184.7 L1113.7,2183.1 L1117.3,2181.5 L1120.9,2180 L1124.4,2178.5 L1128,2177 L1131.6,2175.5 L1135.2,2174.1 L1138.9,2172.7 L1142.5,2171.3 L1146.1,2169.9 L1149.7,2168.6 L1153.4,2167.2 L1157,2166 L1160.7,2164.7 L1164.3,2163.5 L1168,2162.3 L1171.7,2161.2 L1175.4,2160.1 L1179.1,2159 L1182.8,2158.1 L1186.5,2157.1 L1190.3,2156.2 L1194,2155.4 L1197.8,2154.6 L1201.6,2153.9 L1205.4,2153.2 L1209.2,2152.6 L1213,2152 L1216.9,2151.5 L1220.7,2151 L1224.6,2150.6 L1228.4,2150.1 L1232.3,2149.8 L1236.1,2149.4 L1240,2149.1 L1243.9,2148.8 L1247.8,2148.5 L1251.6,2148.3 L1255.5,2148.1 L1259.4,2147.8 L1263.2,2147.7 L1267.1,2147.5 L1271,2147.3 L1274.9,2147.2 L1278.7,2147.1 L1282.6,2146.9 L1286.5,2146.8 L1290.3,2146.8 L1294.2,2146.7 L1298.1,2146.6 L1301.9,2146.6 L1305.8,2146.6 L1309.7,2146.5 L1313.5,2146.5 L1317.4,2146.5 L1321.3,2146.6 L1325.1,2146.6 L1329,2146.6 L1332.9,2146.6 L1336.7,2146.7 L1340.6,2146.7 L1344.5,2146.8 L1348.3,2146.9 L1352.2,2146.9 L1356,2147 L1359.9,2147.1 L1363.8,2147.2 L1367.6,2147.3 L1371.5,2147.3 L1375.4,2147.4 L1379.2,2147.5 L1383.1,2147.6 L1387,2147.7 L1390.8,2147.8 L1394.7,2147.9 L1398.6,2148 L1402.4,2148.1 L1406.3,2148.2 L1410.1,2148.3 L1414,2148.4 L1417.9,2148.4 L1421.7,2148.5 L1425.6,2148.6 L1429.5,2148.7 L1433.3,2148.7 L1437.2,2148.8 L1441.1,2148.9 L1444.9,2148.9 L1448.8,2149 L1452.7,2149.1 L1456.6,2149.1 L1460.4,2149.2 L1464.3,2149.2 L1468.2,2149.3 L1472,2149.4 L1475.9,2149.4 L1479.8,2149.5 L1483.6,2149.5 L1487.5,2149.6 L1491.4,2149.6 L1495.2,2149.7 L1499.1,2149.7 L1503,2149.8 L1506.8,2149.8 L1510.7,2149.9 L1514.6,2149.9 L1518.5,2149.9 L1522.3,2150 L1526.2,2150 L1530.1,2150.1 L1533.9,2150.1 L1537.8,2150.2 L1541.7,2150.2 L1545.5,2150.3 L1549.4,2150.4 L1553.3,2150.4 L1557.1,2150.5 L1561,2150.5 L1564.9,2150.6 L1568.7,2150.6 L1572.6,2150.7 L1576.5,2150.8 L1580.4,2150.8 L1584.2,2150.9 L1588.1,2151 L1592,2151 L1595.8,2151.1 L1599.7,2151.2 L1603.6,2151.3 L1607.4,2151.4 L1611.3,2151.5 L1615.2,2151.5 L1619,2151.6 L1622.9,2151.7 L1626.8,2151.8 L1630.6,2151.9 L1634.5,2152 L1638.4,2152.2 L1642.2,2152.3 L1646.1,2152.4 L1650,2152.5 L1653.8,2152.6 L1657.7,2152.8 L1661.5,2152.9 L1665.4,2153 L1669.3,2153.2 L1673.1,2153.3 L1677,2153.5"/>
</g>
<rect x="309.2" y="1912.3" width="1368" height="1011.5" fill="none" stroke="#111" stroke-width="3.5"/>
<path d="M309.2,2923.8 V2944.8 M504.6,2923.8 V2944.8 M700.1,2923.8 V2944.8 M895.5,2923.8 V2944.8 M1090.9,2923.8 V2944.8 M1286.3,2923.8 V2944.8 M1481.8,2923.8 V2944.8 M1677.2,2923.8 V2944.8 M309.2,1912.3 H296.7 M309.2,1990.1 H288.2 M309.2,2067.9 H296.7 M309.2,2145.7 H288.2 M309.2,2223.5 H296.7 M309.2,2301.3 H288.2 M309.2,2379.1 H296.7 M309.2,2457 H288.2 M309.2,2534.8 H296.7 M309.2,2612.6 H288.2 M309.2,2690.4 H296.7 M309.2,2768.2 H288.2 M309.2,2846 H296.7 M309.2,2923.8 H288.2" stroke="#111" stroke-width="3.5" fill="none"/>
<g font-family="Liberation Sans, Arial, sans-serif" font-size="40.5" fill="#111">
<text x="309.2" y="2989.6" text-anchor="middle">200</text>
<text x="504.6" y="2989.6" text-anchor="middle">210</text>
<text x="700.1" y="2989.6" text-anchor="middle">220</text>
<text x="895.5" y="2989.6" text-anchor="middle">230</text>
<text x="1090.9" y="2989.6" text-anchor="middle">240</text>
<text x="1286.3" y="2989.6" text-anchor="middle">250</text>
<text x="1481.8" y="2989.6" text-anchor="middle">260</text>
<text x="1677.2" y="2989.6" text-anchor="middle">270</text>
<text x="274.4" y="2000.4" text-anchor="end">10000</text>
<text x="274.4" y="2156" text-anchor="end">0</text>
<text x="274.4" y="2311.6" text-anchor="end">-10000</text>
<text x="274.4" y="2467.3" text-anchor="end">-20000</text>
<text x="274.4" y="2622.9" text-anchor="end">-30000</text>
<text x="274.4" y="2778.5" text-anchor="end">-40000</text>
<text x="274.4" y="2934.1" text-anchor="end">-50000</text>
</g>
<text x="0" y="0" font-family="Liberation Serif, serif" font-size="49.5" fill="#111" transform="translate(916.7,3075.2) scale(1.2,1) translate(0,0)">λ</text>
<text x="956" y="3075.2" font-family="Liberation Sans, Arial, sans-serif" font-weight="bold" font-size="52.7" fill="#111">(nm)</text>
<g transform="translate(61.5,2515) rotate(-90)" fill="#111" font-family="Liberation Sans, Arial, sans-serif">
<text x="0" y="0" font-weight="bold" font-size="50">[</text>
<text x="14.5" y="0" font-size="44">θ</text>
<text x="37.5" y="0" font-weight="bold" font-size="50">]</text>
<text x="53.7" y="20.5" font-weight="bold" font-size="50.5">MR</text>
</g>
<rect x="1375.9" y="2650.7" width="262.9" height="227.9" fill="#fff" stroke="#333" stroke-width="2.2"/>
<path d="M1395.8,2680.8 H1477.7" stroke="#000000" stroke-width="5.6" stroke-linecap="round"/>
<text x="1487.8" y="2691.8" font-family="Liberation Sans, Arial, sans-serif" font-size="35.8" fill="#111">0 mM</text>
<path d="M1395.8,2724.9 H1477.7" stroke="#ff0000" stroke-width="5.6" stroke-linecap="round"/>
<text x="1487.8" y="2735.9" font-family="Liberation Sans, Arial, sans-serif" font-size="35.8" fill="#111">0.05 mM</text>
<path d="M1395.8,2769.8 H1477.7" stroke="#0000ff" stroke-width="5.6" stroke-linecap="round"/>
<text x="1487.8" y="2780.8" font-family="Liberation Sans, Arial, sans-serif" font-size="35.8" fill="#111">0.1 mM</text>
<path d="M1395.8,2813.9 H1477.7" stroke="#ff00ff" stroke-width="5.6" stroke-linecap="round"/>
<text x="1487.8" y="2824.9" font-family="Liberation Sans, Arial, sans-serif" font-size="35.8" fill="#111">0.2 mM</text>
<path d="M1395.8,2859.2 H1477.7" stroke="#008000" stroke-width="5.6" stroke-linecap="round"/>
<text x="1487.8" y="2870.2" font-family="Liberation Sans, Arial, sans-serif" font-size="35.8" fill="#111">0.5 mM</text>
</svg>
</body></html>
